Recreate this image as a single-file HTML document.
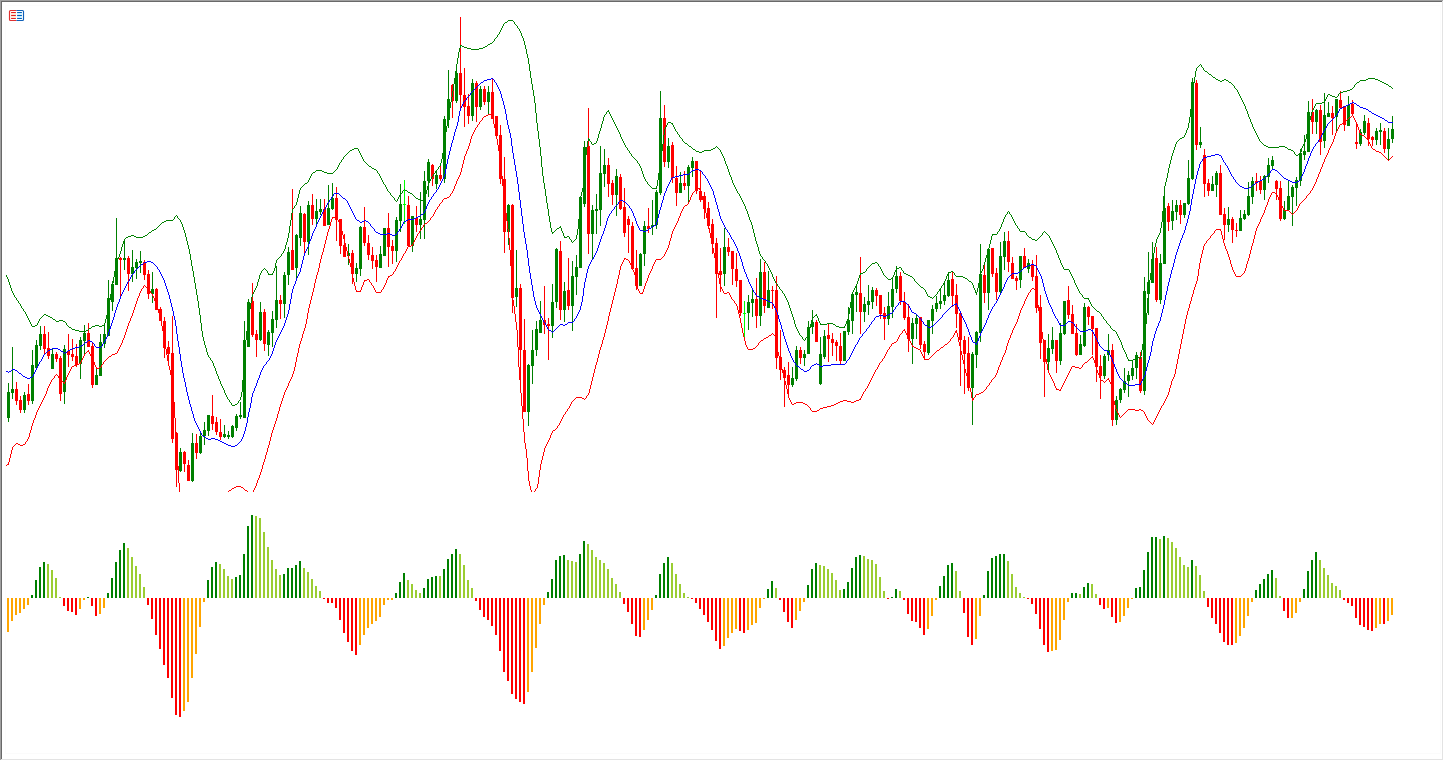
<!DOCTYPE html>
<html><head><meta charset="utf-8"><title>Chart</title>
<style>html,body{margin:0;padding:0;background:#fff;font-family:"Liberation Sans",sans-serif}svg{display:block}</style></head>
<body>
<svg width="1444" height="761" viewBox="0 0 1444 761" shape-rendering="crispEdges">
<rect width="1444" height="761" fill="#fff"/>
<defs><clipPath id="cm"><rect x="5" y="2" width="1390" height="490"/></clipPath><clipPath id="ch"><rect x="5" y="494" width="1390" height="264"/></clipPath></defs>
<g clip-path="url(#cm)">
<path fill="#008000" d="M8 383h1v39h-1zM7 392h3v26h-3zM12 347h1v52h-1zM11 389h3v4h-3zM24 392h1v21h-1zM23 395h3v15h-3zM32 350h1v54h-1zM31 365h3v36h-3zM36 340h1v28h-1zM35 345h3v23h-3zM40 326h1v24h-1zM39 334h3v12h-3zM52 348h1v21h-1zM51 354h3v15h-3zM64 345h1v59h-1zM63 349h3v43h-3zM80 337h1v42h-1zM79 340h3v24h-3zM84 325h1v29h-1zM83 333h3v8h-3zM96 369h1v16h-1zM95 375h3v10h-3zM100 334h1v42h-1zM99 342h3v34h-3zM104 325h1v23h-1zM103 334h3v10h-3zM108 280h1v56h-1zM107 298h3v38h-3zM112 281h1v30h-1zM111 284h3v18h-3zM116 218h1v67h-1zM115 258h3v27h-3zM124 239h1v31h-1zM123 258h3v2h-3zM132 250h1v32h-1zM131 267h3v7h-3zM136 259h1v20h-1zM135 262h3v6h-3zM140 251h1v22h-1zM139 261h3v2h-3zM152 272h1v31h-1zM151 289h3v5h-3zM180 448h1v24h-1zM179 452h3v19h-3zM192 433h1v49h-1zM191 443h3v38h-3zM200 433h1v21h-1zM199 436h3v17h-3zM204 422h1v23h-1zM203 430h3v6h-3zM208 415h1v21h-1zM207 415h3v16h-3zM224 425h1v13h-1zM223 434h3v3h-3zM228 431h1v8h-1zM227 435h3v2h-3zM232 425h1v13h-1zM231 426h3v11h-3zM236 414h1v17h-1zM235 416h3v12h-3zM240 402h1v17h-1zM239 415h3v2h-3zM244 321h1v97h-1zM243 340h3v78h-3zM248 299h1v48h-1zM247 302h3v45h-3zM260 302h1v39h-1zM259 312h3v28h-3zM268 330h1v26h-1zM267 332h3v13h-3zM272 311h1v36h-1zM271 319h3v14h-3zM276 266h1v62h-1zM275 300h3v20h-3zM284 272h1v46h-1zM283 275h3v29h-3zM288 247h1v38h-1zM287 252h3v23h-3zM296 234h1v45h-1zM295 235h3v33h-3zM300 206h1v40h-1zM299 213h3v25h-3zM308 201h1v54h-1zM307 205h3v37h-3zM316 199h1v28h-1zM315 211h3v8h-3zM320 199h1v16h-1zM319 209h3v3h-3zM328 185h1v40h-1zM327 208h3v17h-3zM332 183h1v27h-1zM331 198h3v11h-3zM348 244h1v21h-1zM347 253h3v3h-3zM356 263h1v19h-1zM355 268h3v6h-3zM360 226h1v50h-1zM359 227h3v42h-3zM380 246h1v22h-1zM379 254h3v14h-3zM384 228h1v28h-1zM383 228h3v28h-3zM396 217h1v45h-1zM395 220h3v31h-3zM400 184h1v48h-1zM399 204h3v17h-3zM412 216h1v36h-1zM411 216h3v30h-3zM420 192h1v47h-1zM419 219h3v6h-3zM424 171h1v68h-1zM423 181h3v39h-3zM428 159h1v38h-1zM427 162h3v19h-3zM436 171h1v18h-1zM435 175h3v9h-3zM444 116h1v67h-1zM443 119h3v60h-3zM448 70h1v58h-1zM447 99h3v21h-3zM456 66h1v37h-1zM455 73h3v28h-3zM472 79h1v42h-1zM471 83h3v33h-3zM480 86h1v24h-1zM479 89h3v18h-3zM488 86h1v28h-1zM487 92h3v10h-3zM508 204h1v41h-1zM507 205h3v27h-3zM516 250h1v57h-1zM515 288h3v9h-3zM528 364h1v62h-1zM527 365h3v47h-3zM532 330h1v54h-1zM531 350h3v16h-3zM536 321h1v35h-1zM535 329h3v21h-3zM540 301h1v32h-1zM539 320h3v13h-3zM552 284h1v54h-1zM551 302h3v24h-3zM556 248h1v60h-1zM555 249h3v53h-3zM564 282h1v40h-1zM563 291h3v19h-3zM572 261h1v70h-1zM571 276h3v30h-3zM576 255h1v40h-1zM575 267h3v10h-3zM580 197h1v71h-1zM579 197h3v71h-3zM584 141h1v66h-1zM583 147h3v57h-3zM592 205h1v54h-1zM591 210h3v24h-3zM596 194h1v40h-1zM595 209h3v2h-3zM600 146h1v80h-1zM599 173h3v37h-3zM604 149h1v38h-1zM603 165h3v9h-3zM616 169h1v47h-1zM615 176h3v19h-3zM640 253h1v33h-1zM639 254h3v32h-3zM644 221h1v45h-1zM643 226h3v28h-3zM652 200h1v35h-1zM651 225h3v2h-3zM656 190h1v39h-1zM655 192h3v33h-3zM660 91h1v104h-1zM659 118h3v75h-3zM668 138h1v30h-1zM667 146h3v16h-3zM680 172h1v21h-1zM679 183h3v10h-3zM688 165h1v39h-1zM687 167h3v19h-3zM692 157h1v20h-1zM691 161h3v7h-3zM724 228h1v58h-1zM723 247h3v27h-3zM748 295h1v35h-1zM747 302h3v11h-3zM752 290h1v27h-1zM751 299h3v4h-3zM760 259h1v67h-1zM759 272h3v44h-3zM768 271h1v37h-1zM767 290h3v18h-3zM792 367h1v20h-1zM791 378h3v7h-3zM796 346h1v35h-1zM795 350h3v29h-3zM804 350h1v16h-1zM803 354h3v4h-3zM808 321h1v33h-1zM807 327h3v27h-3zM812 310h1v24h-1zM811 322h3v5h-3zM820 337h1v48h-1zM819 354h3v30h-3zM824 330h1v29h-1zM823 336h3v21h-3zM844 331h1v30h-1zM843 331h3v30h-3zM848 307h1v28h-1zM847 320h3v12h-3zM852 292h1v42h-1zM851 294h3v27h-3zM856 286h1v26h-1zM855 292h3v3h-3zM864 297h1v25h-1zM863 304h3v8h-3zM868 285h1v30h-1zM867 301h3v4h-3zM872 287h1v22h-1zM871 290h3v12h-3zM888 292h1v33h-1zM887 306h3v13h-3zM892 277h1v41h-1zM891 289h3v18h-3zM896 266h1v27h-1zM895 276h3v13h-3zM912 318h1v46h-1zM911 323h3v16h-3zM916 315h1v24h-1zM915 318h3v6h-3zM928 320h1v35h-1zM927 320h3v33h-3zM932 305h1v29h-1zM931 309h3v12h-3zM936 296h1v16h-1zM935 303h3v6h-3zM940 289h1v20h-1zM939 301h3v3h-3zM944 283h1v22h-1zM943 295h3v6h-3zM948 272h1v25h-1zM947 280h3v16h-3zM972 352h1v73h-1zM971 354h3v34h-3zM976 331h1v37h-1zM975 332h3v23h-3zM980 244h1v98h-1zM979 274h3v59h-3zM988 248h1v62h-1zM987 249h3v44h-3zM1000 242h1v52h-1zM999 256h3v36h-3zM1004 232h1v38h-1zM1003 241h3v16h-3zM1020 256h1v32h-1zM1019 256h3v24h-3zM1028 259h1v14h-1zM1027 263h3v6h-3zM1048 334h1v36h-1zM1047 348h3v14h-3zM1052 327h1v27h-1zM1051 340h3v9h-3zM1060 323h1v42h-1zM1059 333h3v28h-3zM1064 301h1v34h-1zM1063 301h3v33h-3zM1080 335h1v20h-1zM1079 344h3v11h-3zM1084 303h1v44h-1zM1083 307h3v39h-3zM1104 354h1v25h-1zM1103 356h3v20h-3zM1108 334h1v27h-1zM1107 350h3v5h-3zM1116 396h1v29h-1zM1115 400h3v20h-3zM1120 388h1v15h-1zM1119 389h3v11h-3zM1124 368h1v25h-1zM1123 381h3v9h-3zM1128 371h1v26h-1zM1127 375h3v6h-3zM1132 360h1v20h-1zM1131 368h3v8h-3zM1136 352h1v27h-1zM1135 355h3v13h-3zM1144 277h1v118h-1zM1143 291h3v100h-3zM1148 252h1v63h-1zM1147 282h3v12h-3zM1152 242h1v41h-1zM1151 259h3v24h-3zM1160 254h1v50h-1zM1159 263h3v37h-3zM1164 187h1v77h-1zM1163 208h3v56h-3zM1172 200h1v30h-1zM1171 211h3v10h-3zM1176 200h1v20h-1zM1175 205h3v7h-3zM1184 203h1v15h-1zM1183 203h3v12h-3zM1188 160h1v45h-1zM1187 178h3v26h-3zM1192 78h1v102h-1zM1191 82h3v97h-3zM1200 127h1v21h-1zM1199 142h3v3h-3zM1212 176h1v15h-1zM1211 184h3v7h-3zM1216 171h1v26h-1zM1215 173h3v12h-3zM1228 207h1v25h-1zM1227 219h3v6h-3zM1240 210h1v21h-1zM1239 218h3v13h-3zM1244 210h1v10h-1zM1243 214h3v5h-3zM1248 182h1v34h-1zM1247 196h3v19h-3zM1252 177h1v27h-1zM1251 181h3v16h-3zM1264 175h1v25h-1zM1263 176h3v14h-3zM1268 158h1v25h-1zM1267 165h3v12h-3zM1272 156h1v13h-1zM1271 160h3v6h-3zM1284 201h1v19h-1zM1283 210h3v9h-3zM1288 180h1v30h-1zM1287 196h3v14h-3zM1292 185h1v41h-1zM1291 187h3v10h-3zM1296 177h1v29h-1zM1295 180h3v8h-3zM1300 149h1v37h-1zM1299 153h3v28h-3zM1304 135h1v25h-1zM1303 151h3v4h-3zM1308 101h1v51h-1zM1307 112h3v40h-3zM1316 109h1v25h-1zM1315 110h3v12h-3zM1324 93h1v55h-1zM1323 115h3v26h-3zM1328 102h1v15h-1zM1327 113h3v4h-3zM1336 99h1v32h-1zM1335 99h3v18h-3zM1348 96h1v30h-1zM1347 105h3v21h-3zM1360 129h1v17h-1zM1359 132h3v12h-3zM1364 115h1v20h-1zM1363 121h3v12h-3zM1376 128h1v17h-1zM1375 131h3v9h-3zM1380 123h1v22h-1zM1379 130h3v2h-3zM1388 128h1v32h-1zM1387 139h3v10h-3zM1392 116h1v27h-1zM1391 129h3v10h-3z"/>
<path fill="#ff0000" d="M4 402h1v16h-1zM3 402h3v16h-3zM16 382h1v23h-1zM15 389h3v12h-3zM20 396h1v17h-1zM19 400h3v10h-3zM28 384h1v21h-1zM27 394h3v7h-3zM44 326h1v28h-1zM43 334h3v15h-3zM48 332h1v27h-1zM47 348h3v8h-3zM56 352h1v10h-1zM55 354h3v5h-3zM60 356h1v45h-1zM59 358h3v36h-3zM68 334h1v33h-1zM67 351h3v4h-3zM72 339h1v22h-1zM71 354h3v3h-3zM76 344h1v23h-1zM75 356h3v9h-3zM88 323h1v24h-1zM87 333h3v14h-3zM92 343h1v45h-1zM91 346h3v39h-3zM120 257h1v39h-1zM119 258h3v2h-3zM128 256h1v35h-1zM127 258h3v16h-3zM144 260h1v20h-1zM143 262h3v13h-3zM148 270h1v29h-1zM147 274h3v20h-3zM156 288h1v22h-1zM155 289h3v21h-3zM160 307h1v14h-1zM159 309h3v12h-3zM164 317h1v41h-1zM163 321h3v27h-3zM168 341h1v20h-1zM167 347h3v7h-3zM172 316h1v127h-1zM171 353h3v86h-3zM176 432h1v55h-1zM175 433h3v37h-3zM184 451h1v21h-1zM183 452h3v12h-3zM188 460h1v21h-1zM187 465h3v16h-3zM196 434h1v25h-1zM195 443h3v10h-3zM212 395h1v35h-1zM211 416h3v8h-3zM216 417h1v18h-1zM215 422h3v10h-3zM220 419h1v21h-1zM219 432h3v5h-3zM252 283h1v54h-1zM251 301h3v34h-3zM256 330h1v27h-1zM255 334h3v6h-3zM264 309h1v42h-1zM263 312h3v32h-3zM280 295h1v24h-1zM279 300h3v4h-3zM292 189h1v81h-1zM291 250h3v20h-3zM304 213h1v41h-1zM303 214h3v28h-3zM312 194h1v31h-1zM311 205h3v14h-3zM324 199h1v27h-1zM323 209h3v17h-3zM336 187h1v54h-1zM335 198h3v22h-3zM340 219h1v35h-1zM339 219h3v27h-3zM344 234h1v23h-1zM343 245h3v12h-3zM352 250h1v34h-1zM351 253h3v21h-3zM364 207h1v39h-1zM363 227h3v16h-3zM368 235h1v25h-1zM367 243h3v12h-3zM372 247h1v22h-1zM371 255h3v6h-3zM376 255h1v27h-1zM375 260h3v7h-3zM388 213h1v54h-1zM387 228h3v19h-3zM392 240h1v24h-1zM391 246h3v5h-3zM408 196h1v50h-1zM407 205h3v41h-3zM416 206h1v26h-1zM415 218h3v7h-3zM432 164h1v22h-1zM431 165h3v14h-3zM440 165h1v16h-1zM439 175h3v4h-3zM452 84h1v34h-1zM451 85h3v16h-3zM460 17h1v91h-1zM459 73h3v22h-3zM464 68h1v59h-1zM463 95h3v12h-3zM468 94h1v30h-1zM467 106h3v10h-3zM476 81h1v41h-1zM475 83h3v24h-3zM484 86h1v19h-1zM483 89h3v13h-3zM492 79h1v40h-1zM491 92h3v27h-3zM496 116h1v23h-1zM495 116h3v20h-3zM500 125h1v59h-1zM499 135h3v44h-3zM504 157h1v96h-1zM503 179h3v53h-3zM512 204h1v109h-1zM511 205h3v93h-3zM520 284h1v102h-1zM519 288h3v62h-3zM524 319h1v93h-1zM523 350h3v62h-3zM544 286h1v48h-1zM543 320h3v5h-3zM548 318h1v42h-1zM547 324h3v2h-3zM560 241h1v79h-1zM559 251h3v59h-3zM568 258h1v52h-1zM567 290h3v16h-3zM588 108h1v146h-1zM587 146h3v88h-3zM608 158h1v39h-1zM607 165h3v19h-3zM612 180h1v25h-1zM611 183h3v12h-3zM620 174h1v36h-1zM619 177h3v32h-3zM624 188h1v49h-1zM623 207h3v26h-3zM628 216h1v37h-1zM627 219h3v6h-3zM632 222h1v47h-1zM631 226h3v43h-3zM636 250h1v40h-1zM635 268h3v18h-3zM648 208h1v25h-1zM647 226h3v3h-3zM664 105h1v62h-1zM663 118h3v44h-3zM672 142h1v41h-1zM671 145h3v33h-3zM676 166h1v40h-1zM675 178h3v15h-3zM684 171h1v19h-1zM683 183h3v3h-3zM696 161h1v33h-1zM695 161h3v30h-3zM700 171h1v31h-1zM699 191h3v9h-3zM704 192h1v27h-1zM703 196h3v13h-3zM708 202h1v27h-1zM707 208h3v18h-3zM712 219h1v35h-1zM711 224h3v20h-3zM716 238h1v80h-1zM715 243h3v31h-3zM720 248h1v44h-1zM719 271h3v4h-3zM728 238h1v18h-1zM727 247h3v5h-3zM732 251h1v34h-1zM731 251h3v18h-3zM736 253h1v34h-1zM735 269h3v12h-3zM740 280h1v36h-1zM739 280h3v33h-3zM756 278h1v50h-1zM755 299h3v17h-3zM764 262h1v51h-1zM763 272h3v34h-3zM772 286h1v23h-1zM771 290h3v1h-3zM776 276h1v93h-1zM775 290h3v68h-3zM780 330h1v50h-1zM779 357h3v13h-3zM784 367h1v40h-1zM783 370h3v8h-3zM788 362h1v32h-1zM787 375h3v10h-3zM800 347h1v17h-1zM799 350h3v8h-3zM816 320h1v22h-1zM815 322h3v20h-3zM828 324h1v38h-1zM827 335h3v4h-3zM832 333h1v23h-1zM831 339h3v4h-3zM836 340h1v21h-1zM835 342h3v4h-3zM840 333h1v31h-1zM839 346h3v15h-3zM860 257h1v77h-1zM859 293h3v19h-3zM876 288h1v18h-1zM875 290h3v6h-3zM880 295h1v24h-1zM879 295h3v19h-3zM884 307h1v33h-1zM883 313h3v6h-3zM900 272h1v33h-1zM899 276h3v25h-3zM904 292h1v28h-1zM903 302h3v16h-3zM908 304h1v48h-1zM907 317h3v22h-3zM920 317h1v32h-1zM919 317h3v28h-3zM924 341h1v18h-1zM923 344h3v8h-3zM952 272h1v35h-1zM951 279h3v17h-3zM956 284h1v44h-1zM955 295h3v19h-3zM960 313h1v73h-1zM959 313h3v27h-3zM964 336h1v58h-1zM963 340h3v14h-3zM968 337h1v54h-1zM967 353h3v35h-3zM984 265h1v38h-1zM983 275h3v18h-3zM992 248h1v29h-1zM991 248h3v26h-3zM996 268h1v32h-1zM995 273h3v19h-3zM1008 231h1v41h-1zM1007 241h3v21h-3zM1012 257h1v22h-1zM1011 263h3v16h-3zM1016 276h1v14h-1zM1015 278h3v3h-3zM1024 248h1v20h-1zM1023 256h3v12h-3zM1032 260h1v21h-1zM1031 265h3v12h-3zM1036 255h1v58h-1zM1035 276h3v32h-3zM1040 295h1v64h-1zM1039 307h3v36h-3zM1044 340h1v57h-1zM1043 340h3v22h-3zM1056 340h1v33h-1zM1055 340h3v21h-3zM1068 286h1v33h-1zM1067 300h3v15h-3zM1072 305h1v29h-1zM1071 314h3v20h-3zM1076 324h1v32h-1zM1075 333h3v22h-3zM1088 306h1v19h-1zM1087 307h3v10h-3zM1092 316h1v39h-1zM1091 316h3v13h-3zM1096 328h1v54h-1zM1095 328h3v39h-3zM1100 355h1v44h-1zM1099 366h3v10h-3zM1112 344h1v82h-1zM1111 350h3v70h-3zM1140 352h1v41h-1zM1139 357h3v34h-3zM1156 247h1v55h-1zM1155 258h3v42h-3zM1168 203h1v28h-1zM1167 206h3v16h-3zM1180 200h1v24h-1zM1179 205h3v10h-3zM1196 80h1v70h-1zM1195 83h3v62h-3zM1204 149h1v48h-1zM1203 155h3v29h-3zM1208 179h1v17h-1zM1207 183h3v8h-3zM1220 165h1v50h-1zM1219 173h3v42h-3zM1224 208h1v32h-1zM1223 214h3v11h-3zM1232 217h1v26h-1zM1231 219h3v11h-3zM1236 223h1v14h-1zM1235 230h3v1h-3zM1256 173h1v18h-1zM1255 181h3v2h-3zM1260 176h1v18h-1zM1259 181h3v9h-3zM1276 180h1v20h-1zM1275 181h3v8h-3zM1280 181h1v40h-1zM1279 188h3v31h-3zM1312 99h1v35h-1zM1311 112h3v10h-3zM1320 105h1v50h-1zM1319 110h3v32h-3zM1332 106h1v29h-1zM1331 113h3v5h-3zM1340 91h1v17h-1zM1339 100h3v8h-3zM1344 106h1v25h-1zM1343 106h3v19h-3zM1352 100h1v16h-1zM1351 104h3v10h-3zM1356 122h1v27h-1zM1355 142h3v2h-3zM1368 118h1v28h-1zM1367 123h3v16h-3zM1372 136h1v10h-1zM1371 137h3v3h-3zM1384 128h1v25h-1zM1383 131h3v18h-3z"/>
<path fill="#00ff00" d="M404 180h1v44h-1zM403 204h3v1h-3zM744 301h1v38h-1zM743 313h3v1h-3z"/>
<path fill="#008000" d="M951 271h2v1h-2zM1180 138h2v1h-2zM50 317h2v1h-2zM59 320h4v1h-4zM1035 240h2v1h-2zM268 274h5v1h-5zM906 274h2v1h-2zM35 325h2v1h-2zM95 325h4v1h-4zM102 325h2v1h-2zM820 324h7v1h-7zM833 324h2v1h-2zM467 48h4v1h-4zM479 48h4v1h-4zM128 236h3v1h-3zM134 236h2v1h-2zM143 236h2v1h-2zM567 236h2v1h-2zM1330 95h2v1h-2zM992 234h5v1h-5zM154 229h2v1h-2zM863 272h2v1h-2zM948 272h3v1h-3zM975 292h2v1h-2zM557 228h2v1h-2zM313 172h2v1h-2zM324 172h3v1h-3zM827 323h6v1h-6zM896 268h3v1h-3zM354 148h4v1h-4zM713 148h2v1h-2zM405 190h2v1h-2zM860 273h3v1h-3zM904 273h2v1h-2zM420 200h5v1h-5zM594 143h2v1h-2zM685 143h2v1h-2zM350 150h2v1h-2zM704 150h7v1h-7zM1291 150h2v1h-2zM46 315h2v1h-2zM815 315h2v1h-2zM671 123h2v1h-2zM1220 81h2v1h-2zM1380 81h2v1h-2zM696 151h3v1h-3zM702 151h2v1h-2zM1386 84h2v1h-2zM508 20h5v1h-5zM1229 82h2v1h-2zM1357 82h2v1h-2zM1382 82h2v1h-2zM969 281h2v1h-2zM689 146h2v1h-2zM1266 146h2v1h-2zM1279 146h6v1h-6zM888 279h3v1h-3zM149 232h2v1h-2zM552 232h2v1h-2zM1084 298h5v1h-5zM32 326h3v1h-3zM92 326h3v1h-3zM99 326h3v1h-3zM836 326h3v1h-3zM72 329h3v1h-3zM1332 96h3v1h-3zM1216 79h2v1h-2zM1224 79h2v1h-2zM1366 79h2v1h-2zM1375 79h3v1h-3zM352 149h2v1h-2zM693 149h2v1h-2zM711 149h2v1h-2zM1288 149h3v1h-3zM369 166h2v1h-2zM652 188h5v1h-5zM152 230h2v1h-2zM921 287h2v1h-2zM1264 145h2v1h-2zM1340 92h3v1h-3zM930 297h2v1h-2zM875 262h2v1h-2zM131 235h3v1h-3zM145 235h2v1h-2zM1020 231h5v1h-5zM559 227h2v1h-2zM48 316h2v1h-2zM928 296h2v1h-2zM1328 94h2v1h-2zM588 139h2v1h-2zM1097 311h2v1h-2zM126 237h2v1h-2zM136 237h7v1h-7zM564 237h3v1h-3zM1029 237h2v1h-2zM75 330h4v1h-4zM86 330h2v1h-2zM1113 330h2v1h-2zM1296 155h2v1h-2zM908 275h2v1h-2zM53 319h2v1h-2zM1136 357h3v1h-3zM1316 103h6v1h-6zM592 144h2v1h-2zM374 169h2v1h-2zM1032 239h3v1h-3zM460 45h2v1h-2zM69 327h2v1h-2zM839 327h6v1h-6zM1128 360h5v1h-5zM316 170h6v1h-6zM166 220h7v1h-7zM305 183h2v1h-2zM1218 80h2v1h-2zM1222 80h2v1h-2zM1226 80h2v1h-2zM1360 80h6v1h-6zM1378 80h2v1h-2zM89 328h2v1h-2zM1213 77h2v1h-2zM899 267h2v1h-2zM910 276h2v1h-2zM956 276h7v1h-7zM668 122h3v1h-3zM891 278h2v1h-2zM965 278h2v1h-2zM408 192h2v1h-2zM56 321h3v1h-3zM63 321h2v1h-2zM1347 90h3v1h-3zM963 277h2v1h-2zM872 263h3v1h-3zM164 221h2v1h-2zM1209 74h2v1h-2zM505 22h2v1h-2zM1064 269h5v1h-5zM699 152h3v1h-3zM44 314h2v1h-2zM1268 147h11v1h-11zM1285 147h2v1h-2zM488 44h2v1h-2zM1389 86h2v1h-2zM464 47h3v1h-3zM483 47h2v1h-2zM1205 71h2v1h-2zM372 168h2v1h-2zM1133 359h2v1h-2zM588 140h2v1h-2zM607 111h2v1h-2zM1139 358h2v1h-2zM471 49h8v1h-8zM410 193h2v1h-2zM416 198h2v1h-2zM162 222h2v1h-2zM1182 137h2v1h-2zM1368 78h7v1h-7zM418 199h2v1h-2zM322 171h2v1h-2zM79 331h7v1h-7zM1343 91h4v1h-4zM1298 154h2v1h-2zM1350 89h2v1h-2zM1335 97h2v1h-2zM1384 83h2v1h-2zM232 405h3v1h-3zM462 46h2v1h-2zM485 46h2v1h-2zM327 173h6v1h-6zM235 404h2v1h-2zM1322 102h2v1h-2zM490 43h2v1h-2zM648 184h1v1h-1zM609 112h1v2h-1zM882 271h1v2h-1zM854 288h1v2h-1zM243 362h1v18h-1zM681 138h1v1h-1zM196 289h1v6h-1zM1146 313h1v11h-1zM574 240h1v1h-1zM262 270h1v1h-1zM845 324h1v2h-1zM795 324h1v3h-1zM975 290h1v2h-1zM533 90h1v6h-1zM551 228h1v4h-1zM579 205h1v14h-1zM161 223h1v1h-1zM227 397h1v2h-1zM584 165h1v13h-1zM953 272h1v1h-1zM583 178h1v10h-1zM1122 345h1v3h-1zM289 226h1v7h-1zM1160 228h1v5h-1zM1159 233h1v2h-1zM527 54h1v4h-1zM545 189h1v7h-1zM1026 233h1v2h-1zM771 272h1v2h-1zM245 340h1v8h-1zM21 306h1v2h-1zM249 309h1v6h-1zM1190 109h1v8h-1zM578 219h1v10h-1zM444 138h1v7h-1zM206 348h1v4h-1zM199 308h1v7h-1zM448 113h1v6h-1zM108 306h1v5h-1zM819 321h1v2h-1zM25 312h1v2h-1zM121 247h1v4h-1zM1228 81h1v1h-1zM849 308h1v6h-1zM453 84h1v7h-1zM519 29h1v2h-1zM1311 112h1v4h-1zM1188 123h1v5h-1zM113 277h1v6h-1zM1302 146h1v2h-1zM979 277h1v6h-1zM536 113h1v10h-1zM193 271h1v6h-1zM400 194h1v1h-1zM244 348h1v14h-1zM371 167h1v1h-1zM753 229h1v4h-1zM532 84h1v6h-1zM458 52h1v6h-1zM811 320h1v4h-1zM1327 95h1v2h-1zM756 241h1v3h-1zM1110 326h1v2h-1zM999 229h1v2h-1zM1154 247h1v6h-1zM382 180h1v2h-1zM548 209h1v7h-1zM385 185h1v2h-1zM285 245h1v4h-1zM238 401h1v2h-1zM587 141h1v6h-1zM1198 66h1v1h-1zM452 91h1v6h-1zM659 165h1v8h-1zM759 251h1v3h-1zM396 201h1v1h-1zM865 271h1v1h-1zM762 257h1v2h-1zM427 186h1v4h-1zM742 200h1v2h-1zM202 331h1v6h-1zM763 259h1v1h-1zM1145 324h1v8h-1zM555 230h1v1h-1zM1164 186h1v10h-1zM189 249h1v5h-1zM297 198h1v4h-1zM625 145h1v2h-1zM535 103h1v10h-1zM10 285h1v3h-1zM1306 134h1v5h-1zM933 297h1v1h-1zM658 173h1v7h-1zM276 260h1v3h-1zM1256 133h1v2h-1zM629 151h1v2h-1zM1158 235h1v2h-1zM1144 332h1v6h-1zM895 270h1v2h-1zM242 380h1v12h-1zM724 158h1v3h-1zM443 145h1v8h-1zM752 225h1v4h-1zM529 64h1v7h-1zM547 203h1v6h-1zM600 128h1v3h-1zM257 282h1v4h-1zM1163 196h1v15h-1zM248 315h1v8h-1zM1167 173h1v5h-1zM362 157h1v2h-1zM784 294h1v2h-1zM1193 83h1v8h-1zM643 174h1v3h-1zM848 314h1v5h-1zM646 181h1v1h-1zM182 224h1v3h-1zM880 267h1v2h-1zM148 233h1v1h-1zM120 251h1v3h-1zM785 296h1v2h-1zM610 114h1v2h-1zM1080 293h1v1h-1zM883 273h1v2h-1zM1238 92h1v2h-1zM541 156h1v11h-1zM647 182h1v2h-1zM1310 116h1v4h-1zM1081 294h1v1h-1zM442 153h1v6h-1zM810 324h1v4h-1zM682 139h1v2h-1zM185 233h1v4h-1zM734 185h1v2h-1zM1162 211h1v11h-1zM1149 280h1v7h-1zM538 131h1v8h-1zM195 283h1v6h-1zM791 311h1v3h-1zM1201 65h1v2h-1zM1153 253h1v6h-1zM186 237h1v4h-1zM525 45h1v4h-1zM343 157h1v2h-1zM591 142h1v2h-1zM226 395h1v2h-1zM426 190h1v4h-1zM117 259h1v2h-1zM229 400h1v2h-1zM955 275h1v1h-1zM974 288h1v2h-1zM1140 356h1v2h-1zM550 222h1v6h-1zM279 257h1v1h-1zM528 58h1v6h-1zM66 323h1v2h-1zM1148 287h1v11h-1zM1121 342h1v3h-1zM663 135h1v9h-1zM1252 124h1v3h-1zM124 239h1v2h-1zM115 265h1v6h-1zM296 202h1v3h-1zM198 301h1v7h-1zM191 260h1v6h-1zM91 327h1v1h-1zM339 163h1v2h-1zM1017 226h1v2h-1zM540 147h1v9h-1zM1028 236h1v1h-1zM288 233h1v5h-1zM275 263h1v5h-1zM287 238h1v4h-1zM192 266h1v5h-1zM495 38h1v1h-1zM1143 338h1v6h-1zM174 217h1v2h-1zM657 180h1v6h-1zM292 209h1v4h-1zM256 286h1v2h-1zM598 134h1v4h-1zM531 78h1v6h-1zM247 323h1v8h-1zM335 170h1v1h-1zM447 119h1v7h-1zM1003 219h1v3h-1zM215 368h1v3h-1zM606 112h1v2h-1zM383 182h1v2h-1zM1207 72h1v1h-1zM1192 91h1v9h-1zM384 184h1v1h-1zM201 323h1v8h-1zM543 176h1v7h-1zM977 288h1v4h-1zM740 196h1v2h-1zM564 236h1v1h-1zM1161 222h1v6h-1zM246 331h1v9h-1zM111 288h1v6h-1zM222 386h1v2h-1zM250 303h1v6h-1zM445 132h1v6h-1zM11 288h1v3h-1zM456 64h1v7h-1zM1191 100h1v9h-1zM627 148h1v2h-1zM1009 212h1v2h-1zM747 211h1v3h-1zM765 261h1v2h-1zM450 102h1v6h-1zM769 268h1v2h-1zM1010 214h1v1h-1zM947 274h1v2h-1zM1013 219h1v2h-1zM723 156h1v2h-1zM455 71h1v7h-1zM338 165h1v2h-1zM123 241h1v3h-1zM586 147h1v8h-1zM981 271h1v2h-1zM1147 298h1v15h-1zM433 174h1v2h-1zM662 144h1v7h-1zM546 196h1v7h-1zM729 172h1v3h-1zM581 192h1v4h-1zM1082 295h1v2h-1zM255 288h1v2h-1zM585 155h1v10h-1zM376 170h1v1h-1zM885 276h1v1h-1zM181 222h1v2h-1zM597 138h1v3h-1zM173 219h1v1h-1zM1142 344h1v6h-1zM303 185h1v1h-1zM537 123h1v8h-1zM732 180h1v3h-1zM194 277h1v6h-1zM429 181h1v2h-1zM684 142h1v1h-1zM1203 68h1v2h-1zM733 183h1v2h-1zM665 127h1v2h-1zM576 235h1v4h-1zM790 308h1v3h-1zM1105 320h1v1h-1zM446 126h1v6h-1zM549 216h1v6h-1zM299 190h1v4h-1zM851 296h1v6h-1zM617 128h1v2h-1zM1308 124h1v4h-1zM808 332h1v3h-1zM620 134h1v3h-1zM203 337h1v4h-1zM539 139h1v8h-1zM1250 119h1v3h-1zM1054 246h1v2h-1zM259 275h1v4h-1zM204 341h1v4h-1zM110 294h1v6h-1zM1251 122h1v2h-1zM40 318h1v1h-1zM449 108h1v5h-1zM1126 354h1v3h-1zM1152 259h1v7h-1zM1061 263h1v2h-1zM750 220h1v2h-1zM454 78h1v6h-1zM980 273h1v4h-1zM530 71h1v7h-1zM641 168h1v3h-1zM1258 137h1v2h-1zM580 196h1v9h-1zM214 366h1v2h-1zM542 167h1v9h-1zM265 269h1v1h-1zM1090 302h1v2h-1zM660 157h1v8h-1zM220 381h1v3h-1zM428 183h1v3h-1zM266 270h1v1h-1zM221 384h1v2h-1zM187 241h1v4h-1zM501 28h1v2h-1zM160 224h1v1h-1zM1307 128h1v6h-1zM1011 215h1v2h-1zM984 262h1v3h-1zM298 194h1v4h-1zM767 264h1v2h-1zM796 327h1v2h-1zM807 335h1v2h-1zM109 300h1v6h-1zM721 152h1v2h-1zM926 292h1v2h-1zM1195 71h1v6h-1zM258 279h1v3h-1zM1151 266h1v7h-1zM774 279h1v2h-1zM404 189h1v1h-1zM858 278h1v3h-1zM728 169h1v3h-1zM200 315h1v8h-1zM651 187h1v1h-1zM112 283h1v5h-1zM869 266h1v1h-1zM284 249h1v2h-1zM1107 323h1v1h-1zM618 130h1v2h-1zM1052 242h1v2h-1zM344 156h1v1h-1zM554 231h1v1h-1zM1185 133h1v2h-1zM500 30h1v2h-1zM1007 212h1v2h-1zM1128 359h1v1h-1zM1059 258h1v2h-1zM1073 278h1v2h-1zM818 318h1v3h-1zM749 217h1v3h-1zM1259 139h1v2h-1zM88 329h1v1h-1zM1260 141h1v1h-1zM640 166h1v2h-1zM147 234h1v1h-1zM857 281h1v3h-1zM30 322h1v2h-1zM1150 273h1v7h-1zM1088 299h1v1h-1zM363 159h1v2h-1zM1091 304h1v2h-1zM31 324h1v2h-1zM978 283h1v5h-1zM65 322h1v1h-1zM219 379h1v2h-1zM611 116h1v2h-1zM664 129h1v6h-1zM1117 334h1v2h-1zM1293 151h1v1h-1zM1040 236h1v1h-1zM1294 152h1v2h-1zM438 167h1v2h-1zM924 289h1v1h-1zM1124 350h1v2h-1zM499 32h1v2h-1zM925 290h1v2h-1zM460 46h1v2h-1zM773 277h1v2h-1zM776 283h1v1h-1zM414 196h1v1h-1zM494 39h1v2h-1zM989 244h1v4h-1zM208 355h1v2h-1zM20 304h1v2h-1zM309 178h1v2h-1zM23 309h1v2h-1zM1002 222h1v2h-1zM674 127h1v2h-1zM521 33h1v3h-1zM755 237h1v4h-1zM847 319h1v2h-1zM263 269h1v1h-1zM757 244h1v3h-1zM986 255h1v3h-1zM524 41h1v4h-1zM1215 78h1v1h-1zM1109 325h1v1h-1zM1309 120h1v4h-1zM758 247h1v4h-1zM809 328h1v4h-1zM394 198h1v2h-1zM1171 156h1v4h-1zM572 242h1v1h-1zM315 171h1v1h-1zM5 273h1v2h-1zM602 121h1v3h-1zM744 204h1v2h-1zM197 295h1v6h-1zM424 198h1v2h-1zM920 286h1v1h-1zM12 291h1v2h-1zM624 143h1v2h-1zM804 340h1v1h-1zM850 302h1v6h-1zM628 150h1v1h-1zM459 48h1v4h-1zM1313 108h1v2h-1zM813 317h1v1h-1zM1262 143h1v1h-1zM274 268h1v3h-1zM286 242h1v3h-1zM361 155h1v2h-1zM943 283h1v2h-1zM184 230h1v3h-1zM364 161h1v1h-1zM1001 224h1v3h-1zM786 298h1v2h-1zM645 179h1v2h-1zM691 147h1v1h-1zM291 213h1v7h-1zM365 162h1v1h-1zM1115 331h1v1h-1zM1237 90h1v2h-1zM1094 308h1v1h-1zM1199 65h1v1h-1zM692 148h1v1h-1zM67 325h1v1h-1zM613 120h1v2h-1zM1211 75h1v1h-1zM939 289h1v2h-1zM1295 154h1v1h-1zM736 189h1v2h-1zM976 293h1v2h-1zM534 96h1v7h-1zM934 296h1v1h-1zM228 399h1v1h-1zM1123 348h1v2h-1zM1178 140h1v1h-1zM1339 93h1v1h-1zM672 124h1v1h-1zM207 352h1v3h-1zM210 358h1v2h-1zM1075 283h1v2h-1zM504 23h1v1h-1zM217 374h1v2h-1zM687 144h1v1h-1zM596 141h1v2h-1zM105 319h1v4h-1zM870 265h1v1h-1zM1111 328h1v1h-1zM688 145h1v1h-1zM1141 350h1v6h-1zM1354 85h1v2h-1zM386 187h1v2h-1zM290 220h1v6h-1zM7 277h1v2h-1zM224 390h1v3h-1zM190 254h1v6h-1zM626 147h1v1h-1zM496 37h1v1h-1zM630 153h1v1h-1zM1012 217h1v2h-1zM1338 94h1v2h-1zM731 177h1v3h-1zM1235 88h1v1h-1zM788 302h1v3h-1zM183 227h1v3h-1zM884 275h1v1h-1zM1239 94h1v2h-1zM457 58h1v6h-1zM683 141h1v1h-1zM1096 310h1v1h-1zM1212 76h1v1h-1zM1326 97h1v2h-1zM735 187h1v2h-1zM738 193h1v1h-1zM526 49h1v5h-1zM1246 109h1v2h-1zM1184 135h1v2h-1zM230 402h1v1h-1zM948 273h1v1h-1zM544 183h1v6h-1zM1041 235h1v1h-1zM622 139h1v2h-1zM205 345h1v3h-1zM1253 127h1v2h-1zM983 265h1v4h-1zM434 173h1v1h-1zM1168 168h1v5h-1zM1194 77h1v6h-1zM407 191h1v1h-1zM359 151h1v2h-1zM599 131h1v3h-1zM1077 287h1v2h-1zM667 123h1v2h-1zM577 229h1v6h-1zM1074 280h1v3h-1zM216 371h1v3h-1zM301 187h1v1h-1zM1044 231h1v1h-1zM252 294h1v3h-1zM264 268h1v1h-1zM388 191h1v1h-1zM1208 73h1v1h-1zM1039 237h1v1h-1zM223 388h1v2h-1zM116 261h1v4h-1zM312 173h1v1h-1zM766 263h1v1h-1zM798 331h1v2h-1zM982 269h1v2h-1zM1014 221h1v2h-1zM295 205h1v1h-1zM991 236h1v4h-1zM308 180h1v2h-1zM1305 139h1v3h-1zM107 311h1v4h-1zM649 185h1v1h-1zM1083 297h1v1h-1zM377 171h1v2h-1zM886 277h1v1h-1zM650 186h1v1h-1zM1356 83h1v1h-1zM251 297h1v6h-1zM399 195h1v2h-1zM887 278h1v1h-1zM300 188h1v2h-1zM998 231h1v1h-1zM1204 70h1v1h-1zM451 97h1v5h-1zM561 228h1v3h-1zM158 226h1v1h-1zM860 274h1v1h-1zM990 240h1v4h-1zM1157 237h1v2h-1zM894 272h1v3h-1zM751 222h1v3h-1zM177 216h1v2h-1zM1312 110h1v2h-1zM812 318h1v2h-1zM307 182h1v1h-1zM642 171h1v3h-1zM754 233h1v4h-1zM1046 233h1v1h-1zM938 291h1v1h-1zM575 239h1v1h-1zM240 397h1v3h-1zM441 159h1v4h-1zM398 197h1v2h-1zM793 317h1v3h-1zM390 193h1v2h-1zM985 258h1v4h-1zM997 232h1v2h-1zM1116 332h1v2h-1zM1392 88h1v1h-1zM768 266h1v2h-1zM1170 160h1v4h-1zM797 329h1v2h-1zM601 124h1v4h-1zM278 258h1v1h-1zM1177 141h1v1h-1zM927 294h1v2h-1zM634 158h1v1h-1zM412 194h1v1h-1zM114 271h1v6h-1zM775 281h1v2h-1zM413 195h1v1h-1zM1156 239h1v4h-1zM367 164h1v1h-1zM378 173h1v1h-1zM368 165h1v1h-1zM379 174h1v2h-1zM673 125h1v2h-1zM349 151h1v1h-1zM523 38h1v3h-1zM1202 67h1v1h-1zM695 150h1v1h-1zM397 199h1v2h-1zM439 166h1v1h-1zM239 400h1v1h-1zM937 292h1v2h-1zM1056 250h1v3h-1zM619 132h1v2h-1zM1388 85h1v1h-1zM746 209h1v2h-1zM341 160h1v2h-1zM1060 260h1v3h-1zM14 295h1v2h-1zM179 219h1v1h-1zM337 167h1v2h-1zM1189 117h1v6h-1zM988 248h1v3h-1zM1092 306h1v1h-1zM1173 150h1v3h-1zM268 273h1v1h-1zM302 186h1v1h-1zM844 326h1v1h-1zM792 314h1v3h-1zM604 115h1v2h-1zM1118 336h1v2h-1zM104 323h1v2h-1zM802 337h1v2h-1zM125 238h1v1h-1zM1125 352h1v2h-1zM777 284h1v2h-1zM39 319h1v2h-1zM582 188h1v4h-1zM1070 272h1v2h-1zM151 231h1v1h-1zM175 216h1v1h-1zM415 197h1v1h-1zM675 129h1v2h-1zM522 36h1v2h-1zM852 292h1v4h-1zM1099 312h1v1h-1zM1172 153h1v3h-1zM9 282h1v3h-1zM6 275h1v2h-1zM902 270h1v1h-1zM745 206h1v3h-1zM13 293h1v2h-1zM16 298h1v2h-1zM513 21h1v1h-1zM38 321h1v2h-1zM514 22h1v2h-1zM403 190h1v1h-1zM730 175h1v2h-1zM787 300h1v2h-1zM241 392h1v5h-1zM1355 84h1v1h-1zM1241 98h1v2h-1zM614 122h1v2h-1zM868 267h1v1h-1zM283 251h1v2h-1zM737 191h1v2h-1zM52 318h1v1h-1zM1196 68h1v3h-1zM1248 114h1v3h-1zM859 275h1v3h-1zM1069 270h1v2h-1zM1255 131h1v2h-1zM22 308h1v1h-1zM779 287h1v2h-1zM37 323h1v2h-1zM211 360h1v1h-1zM661 151h1v6h-1zM26 314h1v2h-1zM878 264h1v2h-1zM677 132h1v2h-1zM1166 178h1v4h-1zM560 226h1v1h-1zM1101 314h1v2h-1zM968 280h1v1h-1zM119 254h1v3h-1zM1186 130h1v3h-1zM218 376h1v3h-1zM1112 329h1v1h-1zM387 189h1v2h-1zM8 279h1v3h-1zM282 253h1v1h-1zM225 393h1v2h-1zM277 259h1v1h-1zM1027 235h1v1h-1zM725 161h1v3h-1zM631 154h1v2h-1zM1005 215h1v2h-1zM1261 142h1v1h-1zM1016 225h1v1h-1zM493 41h1v1h-1zM893 275h1v2h-1zM348 152h1v1h-1zM1165 182h1v4h-1zM1240 96h1v2h-1zM612 118h1v2h-1zM739 194h1v2h-1zM760 254h1v2h-1zM563 233h1v3h-1zM1287 148h1v1h-1zM1247 111h1v3h-1zM281 254h1v2h-1zM231 403h1v2h-1zM209 357h1v1h-1zM24 311h1v1h-1zM1063 267h1v2h-1zM781 290h1v1h-1zM213 363h1v3h-1zM877 263h1v1h-1zM122 244h1v3h-1zM1078 289h1v2h-1zM1103 317h1v2h-1zM853 290h1v2h-1zM1045 232h1v1h-1zM159 225h1v1h-1zM261 271h1v2h-1zM914 279h1v2h-1zM806 337h1v1h-1zM770 270h1v2h-1zM632 156h1v1h-1zM1015 223h1v2h-1zM1018 228h1v1h-1zM1263 144h1v1h-1zM430 179h1v2h-1zM366 163h1v1h-1zM1301 148h1v4h-1zM503 24h1v2h-1zM621 137h1v2h-1zM1135 358h1v1h-1zM1055 248h1v2h-1zM260 273h1v2h-1zM748 214h1v3h-1zM805 338h1v2h-1zM1062 265h1v2h-1zM820 323h1v1h-1zM358 149h1v2h-1zM178 218h1v1h-1zM942 285h1v1h-1zM1304 142h1v2h-1zM1076 285h1v2h-1zM1176 142h1v2h-1zM402 191h1v2h-1zM347 153h1v1h-1zM867 268h1v1h-1zM973 285h1v3h-1zM188 245h1v4h-1zM1187 128h1v2h-1zM502 26h1v2h-1zM794 320h1v4h-1zM391 195h1v1h-1zM1325 99h1v2h-1zM342 159h1v1h-1zM935 295h1v1h-1zM800 335h1v1h-1zM552 233h1v1h-1zM715 147h1v1h-1zM801 336h1v1h-1zM380 176h1v2h-1zM605 114h1v1h-1zM1043 232h1v1h-1zM55 320h1v1h-1zM866 269h1v2h-1zM717 147h1v1h-1zM1169 164h1v4h-1zM718 148h1v1h-1zM923 288h1v1h-1zM1038 238h1v1h-1zM901 268h1v2h-1zM497 35h1v2h-1zM311 174h1v2h-1zM176 215h1v1h-1zM946 276h1v3h-1zM1004 217h1v2h-1zM492 42h1v1h-1zM180 220h1v2h-1zM294 206h1v2h-1zM432 176h1v1h-1zM892 277h1v1h-1zM656 186h1v2h-1zM254 290h1v2h-1zM789 305h1v3h-1zM389 192h1v1h-1zM971 282h1v1h-1zM1243 102h1v2h-1zM1391 87h1v1h-1zM972 283h1v2h-1zM615 124h1v2h-1zM1049 236h1v2h-1zM570 239h1v1h-1zM1119 338h1v2h-1zM918 284h1v1h-1zM1315 104h1v2h-1zM435 171h1v2h-1zM1257 135h1v2h-1zM637 161h1v2h-1zM1231 83h1v1h-1zM778 286h1v1h-1zM293 208h1v1h-1zM1232 84h1v1h-1zM28 318h1v2h-1zM431 177h1v2h-1zM676 131h1v1h-1zM987 251h1v4h-1zM679 135h1v2h-1zM967 279h1v1h-1zM1197 67h1v1h-1zM603 117h1v4h-1zM42 316h1v1h-1zM719 149h1v1h-1zM720 150h1v2h-1zM932 298h1v1h-1zM903 271h1v2h-1zM1314 106h1v2h-1zM17 300h1v1h-1zM727 166h1v3h-1zM944 281h1v2h-1zM940 288h1v1h-1zM1047 234h1v1h-1zM1245 106h1v3h-1zM1048 235h1v1h-1zM1242 100h1v2h-1zM1051 240h1v2h-1zM1352 88h1v1h-1zM395 200h1v1h-1zM741 198h1v2h-1zM1249 117h1v2h-1zM1058 255h1v3h-1zM635 159h1v1h-1zM1072 276h1v2h-1zM639 164h1v2h-1zM780 289h1v1h-1zM1175 144h1v3h-1zM1233 85h1v1h-1zM212 361h1v2h-1zM856 284h1v2h-1zM1359 81h1v1h-1zM27 316h1v2h-1zM1079 291h1v2h-1zM1234 86h1v2h-1zM106 315h1v4h-1zM346 154h1v1h-1zM1324 101h1v1h-1zM556 229h1v1h-1zM1300 152h1v2h-1zM590 141h1v1h-1zM954 273h1v2h-1zM912 277h1v1h-1zM425 194h1v4h-1zM913 278h1v1h-1zM437 169h1v1h-1zM772 274h1v3h-1zM18 301h1v2h-1zM726 164h1v2h-1zM516 25h1v1h-1zM1174 147h1v3h-1zM517 26h1v2h-1zM520 31h1v2h-1zM1093 307h1v1h-1zM855 286h1v2h-1zM393 197h1v1h-1zM666 125h1v2h-1zM846 321h1v3h-1zM118 257h1v2h-1zM1042 233h1v2h-1zM743 202h1v2h-1zM440 163h1v3h-1zM340 162h1v1h-1zM1037 239h1v1h-1zM1057 253h1v2h-1zM623 141h1v2h-1zM1254 129h1v2h-1zM336 169h1v1h-1zM782 291h1v2h-1zM360 153h1v2h-1zM881 269h1v2h-1zM1155 243h1v4h-1zM1236 89h1v1h-1zM644 177h1v2h-1zM253 292h1v2h-1zM333 172h1v1h-1zM1100 313h1v1h-1zM588 138h1v1h-1zM1104 319h1v1h-1zM43 315h1v1h-1zM915 281h1v1h-1zM992 235h1v1h-1zM1025 232h1v1h-1zM156 228h1v1h-1zM799 333h1v2h-1zM518 28h1v1h-1zM1019 229h1v2h-1zM945 279h1v2h-1zM272 273h1v1h-1zM1095 309h1v1h-1zM381 178h1v2h-1zM941 286h1v2h-1zM936 294h1v1h-1zM562 231h1v2h-1zM573 241h1v1h-1zM716 146h1v1h-1zM783 293h1v1h-1zM879 266h1v1h-1zM507 21h1v1h-1zM1102 316h1v1h-1zM1200 64h1v1h-1zM1106 321h1v2h-1zM237 403h1v1h-1zM1120 340h1v2h-1zM569 237h1v2h-1zM916 282h1v1h-1zM498 34h1v1h-1zM917 283h1v1h-1zM1127 357h1v2h-1zM1179 139h1v1h-1zM817 316h1v2h-1zM345 155h1v1h-1zM267 271h1v2h-1zM764 260h1v1h-1zM1008 211h1v1h-1zM835 325h1v1h-1zM436 170h1v1h-1zM722 154h1v2h-1zM608 110h1v1h-1zM71 328h1v1h-1zM1108 324h1v1h-1zM1244 104h1v2h-1zM1053 244h1v2h-1zM616 126h1v2h-1zM1050 238h1v2h-1zM571 240h1v2h-1zM633 157h1v1h-1zM803 339h1v1h-1zM310 176h1v2h-1zM1071 274h1v2h-1zM816 314h1v1h-1zM1303 144h1v2h-1zM401 193h1v1h-1zM1089 300h1v2h-1zM29 320h1v2h-1zM273 271h1v2h-1zM1353 87h1v1h-1zM1000 227h1v2h-1zM896 269h1v1h-1zM814 316h1v1h-1zM1337 96h1v1h-1zM515 24h1v1h-1zM392 196h1v1h-1zM280 256h1v1h-1zM636 160h1v1h-1zM871 264h1v1h-1zM678 134h1v1h-1zM487 45h1v1h-1zM68 326h1v1h-1zM15 297h1v1h-1zM1006 214h1v1h-1zM19 303h1v1h-1zM334 171h1v1h-1zM304 184h1v1h-1zM919 285h1v1h-1zM761 256h1v1h-1zM157 227h1v1h-1zM41 317h1v1h-1zM1031 238h1v1h-1zM638 163h1v1h-1zM680 137h1v1h-1z"/>
<path fill="#ff0000" d="M1056 389h3v1h-3zM831 405h3v1h-3zM1272 192h3v1h-3zM903 330h2v1h-2zM812 411h5v1h-5zM447 197h2v1h-2zM1376 151h3v1h-3zM16 443h2v1h-2zM937 350h2v1h-2zM766 337h2v1h-2zM924 359h5v1h-5zM912 346h2v1h-2zM390 275h2v1h-2zM1032 288h2v1h-2zM914 347h2v1h-2zM941 347h2v1h-2zM112 354h3v1h-3zM1091 357h2v1h-2zM1034 289h2v1h-2zM411 245h2v1h-2zM115 353h2v1h-2zM1275 193h2v1h-2zM698 188h2v1h-2zM981 392h2v1h-2zM63 382h2v1h-2zM955 331h2v1h-2zM792 404h2v1h-2zM805 404h2v1h-2zM834 404h2v1h-2zM444 198h3v1h-3zM976 394h3v1h-3zM769 335h2v1h-2zM356 291h5v1h-5zM236 486h5v1h-5zM109 356h2v1h-2zM764 338h2v1h-2zM576 397h6v1h-6zM1379 152h2v1h-2zM685 205h2v1h-2zM979 393h2v1h-2zM232 488h2v1h-2zM72 366h2v1h-2zM1072 366h3v1h-3zM748 349h5v1h-5zM918 349h2v1h-2zM18 444h2v1h-2zM23 444h2v1h-2zM640 293h3v1h-3zM724 293h3v1h-3zM364 280h3v1h-3zM761 340h2v1h-2zM79 363h2v1h-2zM624 258h2v1h-2zM74 365h2v1h-2zM388 276h2v1h-2zM1236 276h5v1h-5zM626 259h2v1h-2zM656 259h5v1h-5zM843 400h4v1h-4zM856 400h3v1h-3zM7 464h2v1h-2zM408 246h3v1h-3zM945 344h2v1h-2zM1360 134h2v1h-2zM753 348h2v1h-2zM916 348h2v1h-2zM840 401h3v1h-3zM847 401h4v1h-4zM854 401h2v1h-2zM820 408h3v1h-3zM425 223h2v1h-2zM817 410h2v1h-2zM1135 410h4v1h-4zM1141 410h2v1h-2zM1216 229h5v1h-5zM376 292h5v1h-5zM727 292h2v1h-2zM827 406h4v1h-4zM892 343h2v1h-2zM1107 379h2v1h-2zM99 367h2v1h-2zM1075 367h4v1h-4zM332 217h3v1h-3zM87 351h2v1h-2zM1059 390h2v1h-2zM1085 362h2v1h-2zM1284 210h5v1h-5zM96 368h3v1h-3zM1079 368h2v1h-2zM1373 149h2v1h-2zM794 403h2v1h-2zM803 403h2v1h-2zM836 403h2v1h-2zM553 430h2v1h-2zM20 445h3v1h-3zM582 398h2v1h-2zM972 398h2v1h-2zM229 490h2v1h-2zM245 490h2v1h-2zM955 332h2v1h-2zM367 279h2v1h-2zM1342 123h2v1h-2zM1128 409h7v1h-7zM1139 409h2v1h-2zM76 364h3v1h-3zM823 407h4v1h-4zM859 399h2v1h-2zM972 399h2v1h-2zM796 402h7v1h-7zM838 402h2v1h-2zM851 402h3v1h-3zM1362 135h2v1h-2zM894 342h2v1h-2zM335 216h2v1h-2zM234 487h2v1h-2zM241 487h2v1h-2zM1101 380h2v1h-2zM488 114h4v1h-4zM486 115h2v1h-2zM5 465h2v1h-2zM484 116h2v1h-2zM1349 117h2v1h-2zM696 189h2v1h-2zM1340 124h2v1h-2zM494 124h1v4h-1zM1162 405h1v1h-1zM501 166h1v10h-1zM256 483h1v3h-1zM693 192h1v1h-1zM395 269h1v2h-1zM510 250h1v16h-1zM442 200h1v2h-1zM1221 231h1v4h-1zM729 293h1v2h-1zM177 450h1v16h-1zM702 196h1v4h-1zM171 375h1v7h-1zM364 281h1v1h-1zM25 442h1v2h-1zM323 248h1v4h-1zM1179 349h1v5h-1zM273 427h1v3h-1zM898 337h1v2h-1zM704 204h1v4h-1zM520 380h1v13h-1zM467 149h1v2h-1zM1043 339h1v8h-1zM593 373h1v4h-1zM315 279h1v4h-1zM147 288h1v1h-1zM1039 311h1v6h-1zM650 271h1v2h-1zM776 341h1v7h-1zM1004 353h1v2h-1zM1158 412h1v2h-1zM1247 261h1v3h-1zM1170 385h1v3h-1zM962 355h1v5h-1zM1371 146h1v2h-1zM343 235h1v4h-1zM148 289h1v1h-1zM345 243h1v4h-1zM518 347h1v20h-1zM987 386h1v1h-1zM523 419h1v13h-1zM297 353h1v4h-1zM779 356h1v4h-1zM288 383h1v3h-1zM119 347h1v2h-1zM503 186h1v10h-1zM454 186h1v3h-1zM690 197h1v3h-1zM386 280h1v3h-1zM890 346h1v1h-1zM158 309h1v4h-1zM327 232h1v4h-1zM863 392h1v2h-1zM1064 381h1v2h-1zM742 328h1v5h-1zM500 157h1v9h-1zM1325 157h1v2h-1zM597 358h1v4h-1zM174 402h1v16h-1zM509 238h1v12h-1zM710 233h1v5h-1zM461 168h1v4h-1zM1278 197h1v3h-1zM284 392h1v3h-1zM1020 310h1v3h-1zM268 445h1v3h-1zM161 320h1v6h-1zM450 194h1v2h-1zM382 289h1v1h-1zM541 460h1v4h-1zM588 393h1v2h-1zM1049 373h1v2h-1zM1042 332h1v7h-1zM310 300h1v4h-1zM720 284h1v3h-1zM179 483h1v9h-1zM637 286h1v3h-1zM1060 389h1v1h-1zM1356 122h1v2h-1zM958 337h1v5h-1zM1348 118h1v1h-1zM526 449h1v9h-1zM969 384h1v4h-1zM1258 224h1v2h-1zM512 286h1v14h-1zM255 486h1v2h-1zM1036 293h1v6h-1zM135 304h1v3h-1zM886 352h1v2h-1zM549 438h1v2h-1zM923 356h1v2h-1zM951 338h1v1h-1zM619 270h1v5h-1zM920 350h1v2h-1zM738 310h1v4h-1zM322 252h1v3h-1zM272 430h1v3h-1zM1119 415h1v2h-1zM352 273h1v5h-1zM786 385h1v4h-1zM1385 157h1v1h-1zM1345 121h1v1h-1zM262 465h1v4h-1zM88 350h1v1h-1zM511 266h1v20h-1zM497 139h1v6h-1zM897 339h1v2h-1zM1226 249h1v2h-1zM882 359h1v2h-1zM1178 354h1v5h-1zM1169 388h1v4h-1zM466 151h1v3h-1zM406 249h1v2h-1zM592 377h1v4h-1zM1266 205h1v2h-1zM1316 179h1v3h-1zM173 390h1v12h-1zM243 488h1v1h-1zM83 356h1v2h-1zM1108 378h1v1h-1zM528 471h1v10h-1zM1045 353h1v6h-1zM167 355h1v6h-1zM473 132h1v2h-1zM95 365h1v2h-1zM176 434h1v16h-1zM633 270h1v2h-1zM707 218h1v5h-1zM1230 260h1v4h-1zM1153 422h1v2h-1zM118 349h1v2h-1zM965 369h1v4h-1zM56 374h1v1h-1zM385 283h1v2h-1zM525 443h1v6h-1zM614 292h1v4h-1zM1324 159h1v3h-1zM1181 339h1v5h-1zM1063 383h1v2h-1zM276 418h1v3h-1zM605 329h1v4h-1zM267 448h1v4h-1zM348 255h1v4h-1zM782 369h1v4h-1zM954 333h1v2h-1zM370 282h1v1h-1zM1007 343h1v3h-1zM349 259h1v4h-1zM126 329h1v3h-1zM381 290h1v2h-1zM522 406h1v13h-1zM470 139h1v4h-1zM1173 377h1v2h-1zM540 464h1v6h-1zM170 370h1v5h-1zM163 331h1v5h-1zM1257 226h1v2h-1zM680 213h1v3h-1zM134 307h1v3h-1zM731 297h1v2h-1zM517 330h1v17h-1zM885 354h1v2h-1zM745 341h1v4h-1zM1215 230h1v1h-1zM374 288h1v2h-1zM496 133h1v6h-1zM1044 347h1v6h-1zM513 300h1v6h-1zM1115 405h1v4h-1zM713 248h1v5h-1zM1027 295h1v2h-1zM617 279h1v5h-1zM950 339h1v2h-1zM1359 130h1v3h-1zM36 412h1v3h-1zM330 222h1v4h-1zM811 410h1v1h-1zM1370 144h1v2h-1zM609 312h1v4h-1zM1038 305h1v6h-1zM292 374h1v3h-1zM1199 263h1v6h-1zM508 229h1v9h-1zM1265 207h1v3h-1zM270 437h1v4h-1zM150 291h1v2h-1zM142 288h1v1h-1zM153 296h1v2h-1zM502 176h1v10h-1zM1177 359h1v5h-1zM600 347h1v3h-1zM647 278h1v3h-1zM344 239h1v4h-1zM355 286h1v4h-1zM778 352h1v4h-1zM629 261h1v2h-1zM178 466h1v17h-1zM313 288h1v4h-1zM741 323h1v5h-1zM82 358h1v2h-1zM499 151h1v6h-1zM591 381h1v4h-1zM1198 269h1v7h-1zM1097 370h1v3h-1zM157 306h1v3h-1zM1276 194h1v1h-1zM516 322h1v8h-1zM30 430h1v3h-1zM709 228h1v5h-1zM655 260h1v2h-1zM1082 365h1v2h-1zM531 490h1v2h-1zM1277 195h1v2h-1zM1203 246h1v4h-1zM1048 370h1v3h-1zM1323 162h1v2h-1zM1051 377h1v2h-1zM957 333h1v4h-1zM325 240h1v4h-1zM275 421h1v3h-1zM505 205h1v8h-1zM125 332h1v3h-1zM636 280h1v6h-1zM265 455h1v4h-1zM519 367h1v13h-1zM317 272h1v3h-1zM175 418h1v16h-1zM563 415h1v2h-1zM1006 346h1v4h-1zM316 275h1v4h-1zM1172 379h1v2h-1zM1307 195h1v1h-1zM595 365h1v4h-1zM105 360h1v1h-1zM351 267h1v6h-1zM679 216h1v2h-1zM1222 235h1v4h-1zM27 439h1v2h-1zM1214 231h1v2h-1zM308 308h1v5h-1zM785 381h1v4h-1zM737 306h1v4h-1zM132 313h1v3h-1zM705 208h1v5h-1zM1302 201h1v1h-1zM172 382h1v8h-1zM354 282h1v4h-1zM299 344h1v4h-1zM35 415h1v3h-1zM1225 246h1v3h-1zM47 388h1v3h-1zM498 145h1v6h-1zM521 393h1v13h-1zM963 360h1v4h-1zM715 258h1v5h-1zM1264 210h1v3h-1zM1040 317h1v7h-1zM320 259h1v4h-1zM599 350h1v4h-1zM646 281h1v2h-1zM129 321h1v2h-1zM504 196h1v9h-1zM543 452h1v4h-1zM986 387h1v2h-1zM758 343h1v2h-1zM555 429h1v1h-1zM312 292h1v4h-1zM1010 335h1v3h-1zM1190 301h1v3h-1zM311 296h1v4h-1zM1176 364h1v5h-1zM524 432h1v11h-1zM590 385h1v4h-1zM59 378h1v1h-1zM743 333h1v4h-1zM534 491h1v1h-1zM654 262h1v2h-1zM372 285h1v1h-1zM1321 167h1v2h-1zM643 289h1v3h-1zM324 244h1v4h-1zM747 347h1v2h-1zM612 300h1v4h-1zM1202 250h1v4h-1zM722 289h1v2h-1zM123 338h1v2h-1zM907 335h1v2h-1zM694 191h1v1h-1zM337 218h1v2h-1zM960 346h1v5h-1zM992 379h1v1h-1zM340 224h1v3h-1zM594 369h1v4h-1zM1037 299h1v6h-1zM507 221h1v8h-1zM1068 373h1v2h-1zM281 401h1v3h-1zM527 458h1v13h-1zM1185 319h1v5h-1zM151 293h1v1h-1zM868 384h1v2h-1zM666 250h1v2h-1zM1318 174h1v3h-1zM361 287h1v3h-1zM152 294h1v2h-1zM298 348h1v5h-1zM1098 373h1v2h-1zM420 230h1v1h-1zM537 484h1v4h-1zM14 445h1v1h-1zM740 318h1v5h-1zM1046 359h1v5h-1zM319 263h1v5h-1zM662 257h1v1h-1zM607 321h1v4h-1zM708 223h1v5h-1zM42 400h1v2h-1zM1231 264h1v3h-1zM128 323h1v3h-1zM542 456h1v4h-1zM757 345h1v1h-1zM589 389h1v4h-1zM718 273h1v5h-1zM891 344h1v2h-1zM635 275h1v5h-1zM384 285h1v2h-1zM1175 369h1v5h-1zM966 373h1v3h-1zM598 354h1v4h-1zM111 355h1v1h-1zM285 390h1v2h-1zM1271 193h1v2h-1zM783 373h1v4h-1zM902 331h1v2h-1zM653 264h1v2h-1zM302 334h1v4h-1zM1029 292h1v1h-1zM1201 254h1v4h-1zM602 340h1v4h-1zM546 444h1v2h-1zM69 371h1v2h-1zM689 200h1v2h-1zM943 346h1v1h-1zM665 252h1v2h-1zM1317 177h1v2h-1zM360 290h1v1h-1zM306 319h1v5h-1zM672 231h1v3h-1zM346 247h1v4h-1zM780 360h1v5h-1zM1154 420h1v2h-1zM1000 362h1v3h-1zM1146 416h1v2h-1zM318 268h1v4h-1zM493 119h1v5h-1zM449 196h1v1h-1zM29 433h1v4h-1zM430 218h1v2h-1zM819 409h1v1h-1zM905 331h1v2h-1zM338 220h1v2h-1zM618 275h1v4h-1zM772 333h1v1h-1zM906 333h1v2h-1zM301 338h1v3h-1zM506 213h1v8h-1zM721 287h1v2h-1zM773 334h1v1h-1zM1381 153h1v1h-1zM881 361h1v1h-1zM1028 293h1v2h-1zM458 177h1v2h-1zM342 231h1v4h-1zM1382 154h1v1h-1zM1094 360h1v3h-1zM789 398h1v2h-1zM545 446h1v2h-1zM68 373h1v2h-1zM143 286h1v2h-1zM1227 251h1v3h-1zM877 367h1v2h-1zM1024 301h1v3h-1zM1109 380h1v2h-1zM1183 329h1v5h-1zM296 357h1v5h-1zM1335 133h1v3h-1zM568 408h1v1h-1zM259 475h1v3h-1zM326 236h1v4h-1zM999 365h1v2h-1zM1112 391h1v6h-1zM1083 364h1v1h-1zM1204 244h1v2h-1zM596 362h1v3h-1zM1126 411h1v1h-1zM1292 214h1v1h-1zM1055 386h1v2h-1zM1320 169h1v3h-1zM8 462h1v2h-1zM1332 142h1v2h-1zM300 341h1v3h-1zM1308 194h1v1h-1zM703 200h1v4h-1zM1071 367h1v2h-1zM949 341h1v1h-1zM1123 414h1v1h-1zM961 351h1v4h-1zM1014 326h1v2h-1zM514 306h1v8h-1zM291 377h1v2h-1zM560 421h1v2h-1zM457 179h1v2h-1zM676 223h1v2h-1zM1090 358h1v1h-1zM437 207h1v2h-1zM1023 304h1v2h-1zM1244 271h1v2h-1zM32 423h1v3h-1zM1148 420h1v1h-1zM1261 217h1v2h-1zM1145 414h1v2h-1zM138 296h1v2h-1zM621 264h1v2h-1zM1149 421h1v1h-1zM304 328h1v3h-1zM756 346h1v1h-1zM997 370h1v3h-1zM258 478h1v2h-1zM719 278h1v6h-1zM257 480h1v3h-1zM169 366h1v4h-1zM872 376h1v2h-1zM396 267h1v2h-1zM639 291h1v2h-1zM604 333h1v4h-1zM1114 401h1v4h-1zM929 358h1v1h-1zM774 335h1v1h-1zM26 441h1v1h-1zM775 336h1v5h-1zM922 354h1v2h-1zM1331 144h1v2h-1zM1383 155h1v1h-1zM89 352h1v2h-1zM1384 156h1v1h-1zM1013 328h1v2h-1zM1093 358h1v2h-1zM616 284h1v4h-1zM388 277h1v1h-1zM165 342h1v7h-1zM990 382h1v1h-1zM90 354h1v2h-1zM559 423h1v2h-1zM706 213h1v5h-1zM329 226h1v3h-1zM477 125h1v2h-1zM166 349h1v6h-1zM763 339h1v1h-1zM1110 382h1v2h-1zM675 225h1v2h-1zM269 441h1v4h-1zM1339 125h1v2h-1zM436 209h1v1h-1zM716 263h1v5h-1zM1111 384h1v7h-1zM781 365h1v4h-1zM43 398h1v2h-1zM1041 324h1v8h-1zM1235 274h1v2h-1zM1260 219h1v3h-1zM683 207h1v2h-1zM137 298h1v3h-1zM620 266h1v4h-1zM303 331h1v3h-1zM432 216h1v1h-1zM350 263h1v4h-1zM136 301h1v3h-1zM887 350h1v2h-1zM550 435h1v3h-1zM108 357h1v1h-1zM933 354h1v1h-1zM871 378h1v2h-1zM39 406h1v2h-1zM294 367h1v4h-1zM495 128h1v5h-1zM51 380h1v2h-1zM427 222h1v1h-1zM1268 199h1v3h-1zM373 286h1v2h-1zM480 121h1v1h-1zM1117 411h1v2h-1zM867 386h1v2h-1zM777 348h1v4h-1zM419 231h1v2h-1zM940 348h1v1h-1zM1106 380h1v1h-1zM661 258h1v1h-1zM1338 127h1v2h-1zM435 210h1v2h-1zM159 313h1v3h-1zM54 376h1v2h-1zM168 361h1v5h-1zM472 134h1v2h-1zM1099 375h1v3h-1zM415 238h1v2h-1zM1151 423h1v1h-1zM1009 338h1v2h-1zM1053 381h1v2h-1zM682 209h1v2h-1zM10 454h1v4h-1zM38 408h1v2h-1zM50 382h1v2h-1zM585 398h1v1h-1zM1017 319h1v3h-1zM1267 202h1v3h-1zM407 247h1v2h-1zM948 342h1v1h-1zM314 283h1v5h-1zM649 273h1v2h-1zM1246 264h1v4h-1zM866 388h1v1h-1zM573 400h1v1h-1zM403 254h1v2h-1zM1209 238h1v1h-1zM515 314h1v8h-1zM463 160h1v4h-1zM65 380h1v2h-1zM862 394h1v2h-1zM606 325h1v4h-1zM569 406h1v2h-1zM1166 397h1v2h-1zM414 240h1v2h-1zM1313 186h1v2h-1zM399 261h1v2h-1zM1352 115h1v1h-1zM1174 374h1v3h-1zM1353 116h1v2h-1zM1187 311h1v4h-1zM375 290h1v2h-1zM909 339h1v2h-1zM669 241h1v4h-1zM49 384h1v2h-1zM1389 159h1v1h-1zM1116 409h1v2h-1zM331 219h1v3h-1zM247 491h1v1h-1zM601 344h1v3h-1zM544 448h1v4h-1zM154 298h1v3h-1zM1207 240h1v1h-1zM1254 235h1v4h-1zM648 275h1v3h-1zM630 263h1v2h-1zM305 324h1v4h-1zM613 296h1v4h-1zM1165 399h1v2h-1zM968 380h1v4h-1zM1035 290h1v3h-1zM1052 379h1v2h-1zM1249 254h1v4h-1zM1186 315h1v4h-1zM469 143h1v3h-1zM1161 406h1v2h-1zM482 118h1v2h-1zM668 245h1v3h-1zM1366 138h1v1h-1zM1122 415h1v1h-1zM692 193h1v2h-1zM363 282h1v3h-1zM441 202h1v1h-1zM1157 414h1v2h-1zM1089 359h1v1h-1zM15 444h1v1h-1zM122 340h1v3h-1zM964 364h1v5h-1zM1003 355h1v2h-1zM1243 273h1v1h-1zM1067 375h1v2h-1zM12 447h1v3h-1zM287 386h1v2h-1zM492 116h1v3h-1zM755 347h1v1h-1zM889 347h1v2h-1zM295 362h1v5h-1zM744 337h1v4h-1zM1019 313h1v3h-1zM274 424h1v3h-1zM730 295h1v2h-1zM468 146h1v3h-1zM911 343h1v2h-1zM723 291h1v2h-1zM1358 127h1v3h-1zM424 224h1v1h-1zM1160 408h1v2h-1zM307 313h1v6h-1zM1372 148h1v1h-1zM691 195h1v2h-1zM476 127h1v1h-1zM989 383h1v2h-1zM558 425h1v1h-1zM628 260h1v1h-1zM674 227h1v2h-1zM1156 416h1v2h-1zM791 402h1v2h-1zM1327 153h1v2h-1zM278 411h1v3h-1zM1047 364h1v6h-1zM1232 267h1v3h-1zM1189 304h1v4h-1zM286 388h1v2h-1zM1050 375h1v2h-1zM55 375h1v1h-1zM967 376h1v4h-1zM431 217h1v1h-1zM671 234h1v4h-1zM784 377h1v4h-1zM611 304h1v4h-1zM586 396h1v2h-1zM1386 158h1v1h-1zM1256 228h1v3h-1zM1368 140h1v2h-1zM423 225h1v2h-1zM1184 324h1v5h-1zM244 489h1v1h-1zM538 477h1v7h-1zM475 128h1v2h-1zM96 367h1v1h-1zM615 288h1v4h-1zM57 375h1v1h-1zM58 376h1v2h-1zM277 414h1v4h-1zM127 326h1v3h-1zM471 136h1v3h-1zM1147 418h1v2h-1zM1008 340h1v3h-1zM1251 246h1v4h-1zM1197 276h1v5h-1zM383 287h1v2h-1zM1113 397h1v4h-1zM711 238h1v5h-1zM37 410h1v2h-1zM1334 136h1v3h-1zM584 399h1v1h-1zM610 308h1v4h-1zM638 289h1v2h-1zM339 222h1v2h-1zM293 371h1v3h-1zM1200 258h1v5h-1zM972 400h1v1h-1zM1224 243h1v3h-1zM947 343h1v1h-1zM739 314h1v4h-1zM1213 233h1v1h-1zM353 278h1v4h-1zM46 391h1v3h-1zM92 358h1v2h-1zM1301 202h1v1h-1zM1192 294h1v3h-1zM1208 239h1v1h-1zM790 400h1v2h-1zM529 481h1v5h-1zM645 283h1v3h-1zM1312 188h1v2h-1zM9 458h1v4h-1zM975 395h1v2h-1zM1388 160h1v1h-1zM164 336h1v6h-1zM280 404h1v3h-1zM991 380h1v2h-1zM103 362h1v2h-1zM1245 268h1v3h-1zM1191 297h1v4h-1zM1182 334h1v5h-1zM1295 211h1v1h-1zM622 262h1v2h-1zM231 489h1v1h-1zM160 316h1v4h-1zM552 431h1v2h-1zM873 374h1v2h-1zM397 265h1v2h-1zM934 353h1v1h-1zM1233 270h1v2h-1zM1270 195h1v2h-1zM539 470h1v7h-1zM652 266h1v3h-1zM971 392h1v6h-1zM393 272h1v2h-1zM1392 156h1v1h-1zM1319 172h1v2h-1zM901 333h1v1h-1zM1195 284h1v3h-1zM1070 369h1v2h-1zM440 203h1v1h-1zM807 405h1v1h-1zM1223 239h1v4h-1zM121 343h1v2h-1zM1002 357h1v3h-1zM279 407h1v4h-1zM608 316h1v5h-1zM91 356h1v2h-1zM1066 377h1v2h-1zM985 389h1v1h-1zM1253 239h1v4h-1zM1103 381h1v1h-1zM688 202h1v2h-1zM31 426h1v4h-1zM551 433h1v2h-1zM642 292h1v1h-1zM460 172h1v3h-1zM1354 118h1v2h-1zM1031 289h1v1h-1zM283 395h1v3h-1zM712 243h1v5h-1zM1346 120h1v1h-1zM651 269h1v2h-1zM1248 258h1v3h-1zM1194 287h1v3h-1zM771 334h1v1h-1zM1118 413h1v2h-1zM574 399h1v1h-1zM880 362h1v1h-1zM120 345h1v2h-1zM86 352h1v1h-1zM321 255h1v4h-1zM261 469h1v3h-1zM1065 379h1v2h-1zM1096 367h1v3h-1zM1326 155h1v2h-1zM571 402h1v2h-1zM1168 392h1v3h-1zM61 380h1v1h-1zM62 381h1v1h-1zM530 486h1v4h-1zM1061 387h1v2h-1zM1259 222h1v2h-1zM567 409h1v2h-1zM1279 200h1v2h-1zM970 388h1v4h-1zM332 218h1v1h-1zM1364 136h1v1h-1zM924 358h1v1h-1zM787 389h1v5h-1zM1365 137h1v1h-1zM1375 150h1v1h-1zM944 345h1v1h-1zM879 363h1v2h-1zM624 259h1v1h-1zM347 251h1v4h-1zM875 370h1v2h-1zM81 360h1v2h-1zM996 373h1v2h-1zM162 326h1v5h-1zM959 342h1v4h-1zM732 299h1v1h-1zM1016 322h1v2h-1zM264 459h1v3h-1zM1360 133h1v1h-1zM1212 234h1v1h-1zM439 204h1v2h-1zM1300 203h1v1h-1zM131 316h1v2h-1zM155 301h1v2h-1zM13 446h1v1h-1zM1012 330h1v3h-1zM387 278h1v2h-1zM1095 363h1v4h-1zM878 365h1v2h-1zM356 290h1v1h-1zM402 256h1v2h-1zM717 268h1v5h-1zM1296 210h1v1h-1zM462 164h1v4h-1zM64 383h1v1h-1zM228 491h1v1h-1zM874 372h1v2h-1zM398 263h1v2h-1zM1127 410h1v1h-1zM371 283h1v2h-1zM28 437h1v2h-1zM995 375h1v2h-1zM870 380h1v2h-1zM394 271h1v1h-1zM263 462h1v3h-1zM102 364h1v1h-1zM714 253h1v5h-1zM130 318h1v3h-1zM1011 333h1v2h-1zM418 233h1v1h-1zM535 489h1v2h-1zM453 189h1v2h-1zM939 349h1v1h-1zM1105 381h1v1h-1zM930 357h1v1h-1zM71 367h1v2h-1zM734 301h1v2h-1zM908 337h1v2h-1zM900 334h1v1h-1zM254 488h1v2h-1zM548 440h1v2h-1zM341 227h1v4h-1zM869 382h1v2h-1zM667 248h1v2h-1zM362 285h1v2h-1zM788 394h1v4h-1zM271 433h1v4h-1zM421 228h1v2h-1zM896 341h1v1h-1zM101 365h1v2h-1zM465 154h1v2h-1zM865 389h1v2h-1zM632 267h1v3h-1zM1229 257h1v3h-1zM117 351h1v2h-1zM417 234h1v2h-1zM11 450h1v4h-1zM1152 424h1v1h-1zM452 191h1v2h-1zM1062 385h1v2h-1zM1018 316h1v3h-1zM266 452h1v3h-1zM1030 290h1v2h-1zM413 242h1v2h-1zM1351 116h1v1h-1zM953 335h1v2h-1zM428 221h1v1h-1zM809 407h1v1h-1zM603 337h1v3h-1zM810 408h1v2h-1zM884 356h1v2h-1zM547 442h1v2h-1zM70 369h1v2h-1zM899 335h1v2h-1zM253 490h1v2h-1zM1369 142h1v2h-1zM1026 297h1v2h-1zM85 353h1v1h-1zM464 156h1v4h-1zM141 289h1v2h-1zM1299 204h1v2h-1zM1155 418h1v2h-1zM1001 360h1v2h-1zM1206 241h1v2h-1zM491 115h1v1h-1zM1188 308h1v3h-1zM1290 212h1v1h-1zM1081 367h1v1h-1zM670 238h1v3h-1zM1322 164h1v3h-1zM1180 344h1v5h-1zM910 341h1v2h-1zM124 335h1v3h-1zM459 175h1v2h-1zM736 304h1v2h-1zM562 417h1v2h-1zM1171 381h1v4h-1zM1306 196h1v2h-1zM1255 231h1v4h-1zM678 218h1v3h-1zM144 285h1v1h-1zM1121 416h1v1h-1zM34 418h1v2h-1zM1025 299h1v2h-1zM631 265h1v2h-1zM1228 254h1v3h-1zM1088 360h1v1h-1zM140 291h1v2h-1zM623 260h1v2h-1zM260 472h1v3h-1zM1242 274h1v1h-1zM1205 243h1v1h-1zM80 362h1v1h-1zM1250 250h1v4h-1zM565 412h1v2h-1zM701 192h1v4h-1zM1333 139h1v3h-1zM677 221h1v2h-1zM561 419h1v2h-1zM760 341h1v1h-1zM33 420h1v3h-1zM45 394h1v2h-1zM557 426h1v2h-1zM434 212h1v2h-1zM536 488h1v1h-1zM139 293h1v3h-1zM60 379h1v1h-1zM41 402h1v2h-1zM644 286h1v3h-1zM1234 272h1v2h-1zM1281 204h1v2h-1zM994 377h1v1h-1zM481 120h1v1h-1zM106 359h1v1h-1zM1344 122h1v1h-1zM1328 150h1v3h-1zM572 401h1v1h-1zM94 362h1v3h-1zM664 254h1v2h-1zM84 354h1v2h-1zM44 396h1v2h-1zM474 130h1v2h-1zM1336 131h1v2h-1zM1104 382h1v1h-1zM433 214h1v2h-1zM888 349h1v1h-1zM40 404h1v2h-1zM699 189h1v1h-1zM904 329h1v1h-1zM1269 197h1v2h-1zM309 304h1v4h-1zM700 190h1v2h-1zM1355 120h1v2h-1zM67 375h1v2h-1zM864 391h1v1h-1zM156 303h1v3h-1zM1315 182h1v2h-1zM1252 243h1v3h-1zM956 330h1v1h-1zM416 236h1v2h-1zM860 398h1v1h-1zM1100 378h1v2h-1zM998 367h1v3h-1zM1311 190h1v1h-1zM952 337h1v1h-1zM1280 202h1v2h-1zM1054 383h1v3h-1zM369 280h1v2h-1zM282 398h1v3h-1zM883 358h1v1h-1zM133 310h1v3h-1zM1193 290h1v4h-1zM1210 236h1v2h-1zM290 379h1v2h-1zM456 181h1v3h-1zM1143 411h1v1h-1zM66 377h1v3h-1zM1144 412h1v2h-1zM570 404h1v2h-1zM1167 395h1v2h-1zM1022 306h1v2h-1zM1314 184h1v2h-1zM1294 212h1v1h-1zM1310 191h1v2h-1zM1357 124h1v3h-1zM1305 198h1v1h-1zM921 352h1v2h-1zM1005 350h1v3h-1zM1069 371h1v2h-1zM1120 417h1v1h-1zM1330 146h1v2h-1zM455 184h1v2h-1zM289 381h1v2h-1zM1087 361h1v1h-1zM328 229h1v3h-1zM634 272h1v3h-1zM1263 213h1v2h-1zM1241 275h1v1h-1zM984 390h1v1h-1zM1150 422h1v1h-1zM1021 308h1v2h-1zM931 356h1v1h-1zM1220 230h1v1h-1zM1196 281h1v3h-1zM746 345h1v2h-1zM146 287h1v1h-1zM808 406h1v1h-1zM422 227h1v1h-1zM479 122h1v2h-1zM556 428h1v1h-1zM1329 148h1v2h-1zM673 229h1v2h-1zM1262 215h1v2h-1zM1337 129h1v2h-1zM935 352h1v1h-1zM53 378h1v1h-1zM429 220h1v1h-1zM681 211h1v2h-1zM1289 211h1v1h-1zM912 345h1v1h-1zM663 256h1v1h-1zM687 204h1v1h-1zM861 396h1v2h-1zM587 395h1v1h-1zM1347 119h1v1h-1zM48 386h1v2h-1zM149 290h1v1h-1zM1015 324h1v2h-1zM575 398h1v1h-1zM405 251h1v2h-1zM401 258h1v2h-1zM566 411h1v1h-1zM1164 401h1v2h-1zM1283 208h1v2h-1zM733 300h1v1h-1zM1391 157h1v1h-1zM1387 159h1v1h-1zM93 360h1v2h-1zM1298 206h1v2h-1zM1084 363h1v1h-1zM1293 213h1v1h-1zM1309 193h1v1h-1zM107 358h1v1h-1zM932 355h1v1h-1zM1124 413h1v1h-1zM1163 403h1v2h-1zM336 217h1v1h-1zM1367 139h1v1h-1zM1304 199h1v1h-1zM104 361h1v1h-1zM438 206h1v1h-1zM1159 410h1v2h-1zM988 385h1v1h-1zM983 391h1v1h-1zM1297 208h1v2h-1zM1282 206h1v2h-1zM735 303h1v1h-1zM768 336h1v1h-1zM478 124h1v1h-1zM684 206h1v1h-1zM52 379h1v1h-1zM1211 235h1v1h-1zM1291 213h1v1h-1zM412 244h1v1h-1zM564 414h1v1h-1zM974 397h1v1h-1zM145 286h1v1h-1zM1303 200h1v1h-1zM404 253h1v1h-1zM759 342h1v1h-1zM876 369h1v1h-1zM400 260h1v1h-1zM443 199h1v1h-1zM1390 158h1v1h-1zM1125 412h1v1h-1zM695 190h1v1h-1zM993 378h1v1h-1zM392 274h1v1h-1zM1092 356h1v1h-1zM936 351h1v1h-1zM451 193h1v1h-1zM1056 388h1v1h-1zM483 117h1v1h-1z"/>
<path fill="#0000ff" d="M876 316h3v1h-3zM883 316h3v1h-3zM392 235h3v1h-3zM218 440h2v1h-2zM380 234h7v1h-7zM390 234h2v1h-2zM395 234h2v1h-2zM6 371h2v1h-2zM9 371h2v1h-2zM804 371h3v1h-3zM952 305h2v1h-2zM912 312h2v1h-2zM695 169h4v1h-4zM1272 169h3v1h-3zM672 177h3v1h-3zM25 377h2v1h-2zM30 377h2v1h-2zM418 216h2v1h-2zM1068 321h3v1h-3zM1340 108h2v1h-2zM1363 108h3v1h-3zM679 175h4v1h-4zM357 220h2v1h-2zM364 220h2v1h-2zM406 220h2v1h-2zM1346 105h2v1h-2zM1357 105h2v1h-2zM1088 329h3v1h-3zM563 325h2v1h-2zM925 325h2v1h-2zM1060 325h5v1h-5zM879 315h4v1h-4zM886 315h2v1h-2zM484 80h3v1h-3zM928 327h3v1h-3zM812 365h2v1h-2zM823 365h8v1h-8zM568 322h5v1h-5zM1071 322h2v1h-2zM1240 186h2v1h-2zM975 343h2v1h-2zM1012 273h6v1h-6zM75 347h4v1h-4zM96 347h5v1h-5zM1026 266h2v1h-2zM1256 182h2v1h-2zM1292 182h5v1h-5zM760 298h3v1h-3zM23 376h2v1h-2zM1262 179h2v1h-2zM1286 179h2v1h-2zM414 218h2v1h-2zM560 324h3v1h-3zM565 324h2v1h-2zM640 230h3v1h-3zM646 230h2v1h-2zM768 301h2v1h-2zM900 301h5v1h-5zM360 222h2v1h-2zM1244 188h5v1h-5zM378 233h2v1h-2zM387 233h3v1h-3zM954 304h3v1h-3zM623 201h2v1h-2zM1372 113h2v1h-2zM1258 181h2v1h-2zM1290 181h2v1h-2zM1297 181h2v1h-2zM814 364h2v1h-2zM817 364h2v1h-2zM831 364h14v1h-14zM334 193h5v1h-5zM90 341h2v1h-2zM888 314h2v1h-2zM1352 102h2v1h-2zM421 214h2v1h-2zM15 370h2v1h-2zM807 370h2v1h-2zM85 342h2v1h-2zM973 342h2v1h-2zM675 176h4v1h-4zM890 313h2v1h-2zM914 313h2v1h-2zM692 170h3v1h-3zM699 170h2v1h-2zM1275 170h2v1h-2zM652 226h2v1h-2zM491 78h2v1h-2zM50 349h2v1h-2zM58 349h2v1h-2zM70 349h2v1h-2zM1215 154h4v1h-4zM88 340h2v1h-2zM1128 385h7v1h-7zM643 231h3v1h-3zM1242 187h2v1h-2zM1249 187h2v1h-2zM376 232h2v1h-2zM649 228h2v1h-2zM1388 122h5v1h-5zM1204 157h3v1h-3zM549 330h2v1h-2zM1086 330h2v1h-2zM1091 330h2v1h-2zM1369 111h2v1h-2zM1253 184h2v1h-2zM1385 120h2v1h-2zM231 446h4v1h-4zM81 345h2v1h-2zM224 443h2v1h-2zM208 439h3v1h-3zM215 439h3v1h-3zM362 221h2v1h-2zM366 221h2v1h-2zM404 221h2v1h-2zM1284 178h2v1h-2zM620 200h3v1h-3zM1028 265h3v1h-3zM1034 265h2v1h-2zM65 352h2v1h-2zM52 348h6v1h-6zM72 348h3v1h-3zM770 302h2v1h-2zM416 217h2v1h-2zM408 219h6v1h-6zM1376 115h2v1h-2zM1135 384h6v1h-6zM27 378h3v1h-3zM1350 103h2v1h-2zM1354 103h2v1h-2zM1342 107h2v1h-2zM1360 107h3v1h-3zM683 174h6v1h-6zM147 261h4v1h-4zM1080 331h6v1h-6zM797 366h2v1h-2zM820 366h3v1h-3zM757 296h2v1h-2zM12 369h3v1h-3zM801 369h2v1h-2zM1260 180h2v1h-2zM1288 180h2v1h-2zM228 445h3v1h-3zM235 445h2v1h-2zM654 225h2v1h-2zM487 79h4v1h-4zM931 326h2v1h-2zM1374 114h2v1h-2zM1344 106h2v1h-2zM48 350h2v1h-2zM68 350h2v1h-2zM1104 350h3v1h-3zM141 264h2v1h-2zM1031 264h3v1h-3zM1348 104h2v1h-2zM481 82h2v1h-2zM79 346h2v1h-2zM763 299h3v1h-3zM226 444h2v1h-2zM220 441h2v1h-2zM1211 155h4v1h-4zM1219 155h2v1h-2zM1125 383h2v1h-2zM144 262h3v1h-3zM151 262h2v1h-2zM19 373h2v1h-2zM61 351h2v1h-2zM1107 351h2v1h-2zM1018 272h2v1h-2zM1024 267h2v1h-2zM1207 156h4v1h-4zM203 436h2v1h-2zM1378 116h2v1h-2zM222 442h2v1h-2zM343 198h2v1h-2zM766 300h2v1h-2zM1382 118h2v1h-2zM206 438h2v1h-2zM211 438h4v1h-4zM1366 109h2v1h-2zM1380 117h2v1h-2zM312 233h1v3h-1zM1191 199h1v6h-1zM324 209h1v1h-1zM584 282h1v6h-1zM241 439h1v2h-1zM121 294h1v2h-1zM531 279h1v6h-1zM1322 133h1v2h-1zM810 367h1v2h-1zM35 370h1v2h-1zM291 293h1v6h-1zM994 304h1v2h-1zM1229 170h1v2h-1zM960 311h1v3h-1zM921 319h1v2h-1zM1230 172h1v2h-1zM1233 177h1v2h-1zM777 312h1v3h-1zM320 216h1v2h-1zM922 321h1v1h-1zM1178 246h1v3h-1zM519 192h1v8h-1zM108 332h1v3h-1zM1169 278h1v4h-1zM1318 140h1v2h-1zM180 354h1v7h-1zM309 241h1v3h-1zM1267 175h1v1h-1zM730 235h1v2h-1zM990 311h1v2h-1zM182 367h1v6h-1zM659 210h1v4h-1zM967 327h1v2h-1zM1041 276h1v3h-1zM1186 223h1v3h-1zM515 165h1v6h-1zM734 242h1v2h-1zM176 326h1v8h-1zM1161 313h1v4h-1zM246 423h1v4h-1zM494 80h1v2h-1zM196 423h1v2h-1zM868 327h1v1h-1zM262 368h1v2h-1zM8 372h1v1h-1zM193 414h1v4h-1zM528 258h1v8h-1zM439 185h1v2h-1zM275 342h1v3h-1zM1073 323h1v1h-1zM522 216h1v8h-1zM455 129h1v3h-1zM518 184h1v8h-1zM112 320h1v3h-1zM1173 263h1v4h-1zM447 159h1v5h-1zM136 269h1v1h-1zM1222 158h1v2h-1zM179 347h1v7h-1zM1165 295h1v5h-1zM259 375h1v3h-1zM635 218h1v3h-1zM545 323h1v2h-1zM1155 331h1v3h-1zM249 408h1v4h-1zM512 146h1v7h-1zM120 296h1v3h-1zM604 228h1v3h-1zM750 284h1v2h-1zM172 307h1v4h-1zM186 387h1v5h-1zM1124 382h1v1h-1zM119 299h1v3h-1zM1321 135h1v2h-1zM722 221h1v2h-1zM583 288h1v8h-1zM898 303h1v2h-1zM723 223h1v2h-1zM347 201h1v2h-1zM459 111h1v5h-1zM1195 179h1v5h-1zM319 218h1v2h-1zM1177 249h1v3h-1zM1203 158h1v1h-1zM871 322h1v2h-1zM450 147h1v4h-1zM1193 189h1v5h-1zM1152 341h1v5h-1zM521 208h1v8h-1zM989 313h1v2h-1zM527 250h1v8h-1zM658 214h1v4h-1zM162 276h1v2h-1zM1168 282h1v4h-1zM657 218h1v4h-1zM1312 149h1v2h-1zM1046 294h1v3h-1zM1160 317h1v4h-1zM1098 342h1v2h-1zM1301 176h1v2h-1zM1199 164h1v4h-1zM1095 336h1v2h-1zM316 224h1v3h-1zM627 204h1v1h-1zM438 187h1v2h-1zM1053 312h1v2h-1zM286 317h1v3h-1zM273 348h1v3h-1zM454 132h1v4h-1zM862 334h1v2h-1zM1050 305h1v2h-1zM1113 362h1v2h-1zM523 224h1v8h-1zM1281 175h1v1h-1zM111 323h1v3h-1zM958 307h1v2h-1zM1172 267h1v3h-1zM433 194h1v2h-1zM524 232h1v6h-1zM1282 176h1v1h-1zM923 322h1v2h-1zM662 200h1v3h-1zM257 380h1v3h-1zM859 338h1v2h-1zM248 412h1v5h-1zM1189 211h1v4h-1zM603 231h1v3h-1zM342 197h1v1h-1zM44 354h1v1h-1zM118 302h1v2h-1zM615 206h1v1h-1zM514 159h1v6h-1zM968 329h1v3h-1zM1042 279h1v4h-1zM505 109h1v5h-1zM1194 184h1v5h-1zM429 200h1v2h-1zM191 407h1v4h-1zM669 182h1v2h-1zM507 120h1v5h-1zM175 320h1v6h-1zM289 304h1v6h-1zM181 361h1v6h-1zM855 345h1v2h-1zM533 291h1v6h-1zM1304 169h1v3h-1zM40 361h1v1h-1zM458 116h1v6h-1zM194 418h1v3h-1zM449 151h1v4h-1zM972 340h1v2h-1zM126 284h1v2h-1zM470 93h1v2h-1zM943 314h1v1h-1zM739 253h1v3h-1zM1167 286h1v5h-1zM1142 379h1v2h-1zM938 320h1v1h-1zM1300 178h1v2h-1zM1158 323h1v3h-1zM1184 230h1v3h-1zM742 262h1v4h-1zM36 368h1v2h-1zM607 218h1v3h-1zM1197 171h1v4h-1zM517 177h1v7h-1zM543 320h1v2h-1zM717 205h1v4h-1zM554 330h1v1h-1zM244 431h1v3h-1zM272 351h1v3h-1zM983 327h1v2h-1zM501 94h1v4h-1zM94 344h1v2h-1zM168 292h1v3h-1zM718 209h1v3h-1zM187 392h1v4h-1zM547 327h1v2h-1zM178 341h1v6h-1zM171 303h1v4h-1zM786 342h1v3h-1zM996 301h1v2h-1zM109 329h1v3h-1zM1308 158h1v3h-1zM648 229h1v1h-1zM453 136h1v4h-1zM721 219h1v2h-1zM280 332h1v2h-1zM950 307h1v1h-1zM793 360h1v2h-1zM445 169h1v5h-1zM256 383h1v3h-1zM526 244h1v6h-1zM1188 215h1v4h-1zM247 417h1v6h-1zM333 194h1v2h-1zM1163 305h1v4h-1zM668 184h1v2h-1zM21 374h1v1h-1zM1331 120h1v1h-1zM428 202h1v2h-1zM581 302h1v4h-1zM713 191h1v4h-1zM276 340h1v2h-1zM516 171h1v6h-1zM1093 332h1v2h-1zM125 286h1v2h-1zM1096 338h1v2h-1zM264 365h1v1h-1zM457 122h1v4h-1zM356 219h1v1h-1zM5 370h1v1h-1zM510 133h1v5h-1zM1045 291h1v3h-1zM401 226h1v2h-1zM942 315h1v2h-1zM1175 255h1v4h-1zM114 313h1v4h-1zM598 245h1v3h-1zM656 222h1v3h-1zM448 155h1v4h-1zM539 312h1v2h-1zM606 221h1v4h-1zM1141 381h1v2h-1zM536 305h1v3h-1zM629 206h1v2h-1zM529 266h1v7h-1zM1166 291h1v4h-1zM1052 309h1v3h-1zM849 357h1v2h-1zM982 329h1v2h-1zM480 83h1v1h-1zM1112 359h1v3h-1zM1283 177h1v1h-1zM1007 278h1v2h-1zM1307 161h1v3h-1zM1118 374h1v2h-1zM1119 376h1v2h-1zM702 172h1v2h-1zM452 140h1v3h-1zM255 386h1v2h-1zM267 361h1v1h-1zM443 177h1v2h-1zM279 334h1v2h-1zM1170 274h1v4h-1zM190 404h1v3h-1zM979 336h1v2h-1zM174 316h1v4h-1zM17 371h1v1h-1zM667 186h1v2h-1zM296 278h1v3h-1zM1187 219h1v4h-1zM105 339h1v2h-1zM287 314h1v3h-1zM1174 259h1v4h-1zM597 248h1v3h-1zM92 342h1v1h-1zM1077 328h1v1h-1zM664 193h1v3h-1zM956 303h1v1h-1zM250 403h1v5h-1zM785 339h1v3h-1zM809 369h1v1h-1zM617 204h1v1h-1zM1271 170h1v1h-1zM1006 280h1v2h-1zM791 356h1v2h-1zM963 318h1v2h-1zM1037 268h1v2h-1zM1305 166h1v3h-1zM308 244h1v3h-1zM117 304h1v3h-1zM442 179h1v2h-1zM354 215h1v2h-1zM780 322h1v3h-1zM978 338h1v3h-1zM867 328h1v1h-1zM295 281h1v3h-1zM104 341h1v2h-1zM245 427h1v4h-1zM537 308h1v2h-1zM986 320h1v3h-1zM538 310h1v2h-1zM579 310h1v2h-1zM596 251h1v2h-1zM135 270h1v1h-1zM446 164h1v5h-1zM744 269h1v3h-1zM502 98h1v3h-1zM1164 300h1v5h-1zM283 326h1v2h-1zM751 286h1v2h-1zM704 175h1v1h-1zM1359 106h1v1h-1zM350 207h1v2h-1zM18 372h1v1h-1zM708 181h1v2h-1zM42 357h1v2h-1zM600 239h1v3h-1zM165 283h1v3h-1zM866 329h1v2h-1zM315 227h1v2h-1zM783 332h1v4h-1zM38 364h1v2h-1zM202 435h1v1h-1zM511 138h1v8h-1zM1079 330h1v1h-1zM985 323h1v2h-1zM139 266h1v1h-1zM185 382h1v5h-1zM578 312h1v2h-1zM87 341h1v1h-1zM530 273h1v6h-1zM1255 183h1v1h-1zM463 102h1v2h-1zM661 203h1v4h-1zM1036 266h1v2h-1zM1127 384h1v1h-1zM790 353h1v3h-1zM520 200h1v8h-1zM574 319h1v2h-1zM962 316h1v2h-1zM1337 113h1v2h-1zM153 263h1v1h-1zM474 89h1v1h-1zM154 264h1v1h-1zM582 296h1v6h-1zM969 332h1v3h-1zM1356 104h1v1h-1zM195 421h1v2h-1zM425 209h1v2h-1zM999 295h1v2h-1zM497 85h1v2h-1zM198 427h1v2h-1zM466 98h1v2h-1zM314 229h1v2h-1zM243 434h1v3h-1zM122 292h1v2h-1zM302 260h1v4h-1zM811 366h1v1h-1zM995 303h1v1h-1zM577 314h1v2h-1zM1059 323h1v2h-1zM1221 156h1v2h-1zM462 104h1v2h-1zM1122 380h1v1h-1zM188 396h1v4h-1zM905 302h1v1h-1zM1180 240h1v3h-1zM749 282h1v2h-1zM949 308h1v1h-1zM1123 381h1v1h-1zM532 285h1v6h-1zM927 326h1v1h-1zM706 178h1v1h-1zM724 225h1v2h-1zM348 203h1v2h-1zM991 309h1v2h-1zM268 360h1v1h-1zM349 205h1v2h-1zM1265 177h1v1h-1zM288 310h1v4h-1zM252 393h1v4h-1zM400 228h1v1h-1zM164 280h1v3h-1zM714 195h1v3h-1zM167 289h1v3h-1zM782 329h1v3h-1zM1097 340h1v2h-1zM177 334h1v7h-1zM586 273h1v5h-1zM424 211h1v2h-1zM625 202h1v1h-1zM1011 274h1v1h-1zM1150 352h1v4h-1zM626 203h1v1h-1zM1323 131h1v2h-1zM1115 367h1v2h-1zM1196 175h1v4h-1zM1280 174h1v1h-1zM461 106h1v2h-1zM513 153h1v6h-1zM872 321h1v1h-1zM1234 179h1v1h-1zM1179 243h1v3h-1zM506 114h1v6h-1zM1154 334h1v4h-1zM156 266h1v1h-1zM1315 144h1v2h-1zM1145 371h1v4h-1zM1003 287h1v2h-1zM495 82h1v1h-1zM580 306h1v4h-1zM496 83h1v2h-1zM1192 194h1v5h-1zM741 259h1v3h-1zM1311 151h1v2h-1zM865 331h1v1h-1zM663 196h1v4h-1zM292 289h1v4h-1zM1074 324h1v2h-1zM170 299h1v4h-1zM719 212h1v4h-1zM860 337h1v1h-1zM1223 160h1v2h-1zM1226 165h1v1h-1zM546 325h1v2h-1zM593 257h1v2h-1zM133 273h1v1h-1zM525 238h1v6h-1zM907 304h1v1h-1zM856 344h1v1h-1zM129 279h1v2h-1zM1044 287h1v4h-1zM895 307h1v2h-1zM1002 289h1v2h-1zM609 214h1v2h-1zM304 253h1v3h-1zM1047 297h1v3h-1zM274 345h1v3h-1zM998 297h1v2h-1zM936 322h1v1h-1zM551 331h1v1h-1zM1310 153h1v3h-1zM628 205h1v1h-1zM1157 326h1v2h-1zM1114 364h1v3h-1zM258 378h1v2h-1zM1232 176h1v1h-1zM1236 182h1v1h-1zM924 324h1v1h-1zM299 272h1v2h-1zM948 309h1v1h-1zM732 239h1v1h-1zM192 411h1v3h-1zM158 269h1v1h-1zM733 240h1v2h-1zM307 247h1v2h-1zM588 266h1v3h-1zM559 325h1v1h-1zM1001 291h1v2h-1zM1021 270h1v1h-1zM851 353h1v2h-1zM608 216h1v2h-1zM1198 168h1v3h-1zM1075 326h1v1h-1zM740 256h1v3h-1zM327 203h1v2h-1zM1076 327h1v1h-1zM1224 162h1v1h-1zM1325 128h1v2h-1zM997 299h1v2h-1zM169 295h1v4h-1zM1190 205h1v6h-1zM311 236h1v3h-1zM323 210h1v2h-1zM1336 115h1v1h-1zM240 441h1v1h-1zM909 306h1v2h-1zM1147 363h1v4h-1zM1039 272h1v2h-1zM993 306h1v1h-1zM298 274h1v2h-1zM854 347h1v2h-1zM1266 176h1v1h-1zM1043 283h1v4h-1zM587 269h1v4h-1zM508 125h1v4h-1zM599 242h1v3h-1zM850 355h1v2h-1zM326 205h1v2h-1zM630 208h1v1h-1zM746 274h1v3h-1zM846 361h1v2h-1zM322 212h1v2h-1zM1320 137h1v2h-1zM660 207h1v3h-1zM637 224h1v2h-1zM1238 184h1v1h-1zM1264 178h1v1h-1zM318 220h1v2h-1zM1162 309h1v4h-1zM710 185h1v2h-1zM352 211h1v2h-1zM707 179h1v2h-1zM113 317h1v3h-1zM423 213h1v1h-1zM63 352h1v1h-1zM93 343h1v1h-1zM301 264h1v4h-1zM861 336h1v1h-1zM911 310h1v2h-1zM792 358h1v2h-1zM964 320h1v2h-1zM1038 270h1v2h-1zM602 234h1v2h-1zM795 363h1v2h-1zM614 207h1v2h-1zM43 355h1v2h-1zM778 315h1v4h-1zM1314 146h1v1h-1zM317 222h1v2h-1zM971 337h1v3h-1zM535 301h1v4h-1zM39 362h1v2h-1zM140 265h1v1h-1zM251 397h1v6h-1zM1103 349h1v1h-1zM864 332h1v1h-1zM197 425h1v2h-1zM499 89h1v2h-1zM585 278h1v4h-1zM1149 356h1v4h-1zM1183 233h1v2h-1zM553 331h1v1h-1zM592 259h1v1h-1zM1120 378h1v1h-1zM745 272h1v2h-1zM132 274h1v1h-1zM1387 121h1v1h-1zM1121 379h1v1h-1zM671 178h1v2h-1zM173 311h1v5h-1zM636 221h1v3h-1zM431 197h1v2h-1zM899 302h1v1h-1zM752 288h1v2h-1zM601 236h1v3h-1zM755 293h1v2h-1zM116 307h1v3h-1zM351 209h1v2h-1zM128 281h1v1h-1zM472 91h1v1h-1zM11 370h1v1h-1zM709 183h1v2h-1zM332 196h1v1h-1zM1330 121h1v1h-1zM1144 375h1v2h-1zM427 204h1v2h-1zM467 97h1v1h-1zM715 198h1v4h-1zM124 288h1v2h-1zM1110 355h1v2h-1zM935 323h1v1h-1zM95 346h1v1h-1zM1099 344h1v2h-1zM1140 383h1v1h-1zM1182 235h1v3h-1zM34 372h1v2h-1zM1054 314h1v2h-1zM981 331h1v2h-1zM479 84h1v1h-1zM282 328h1v2h-1zM947 310h1v1h-1zM451 143h1v4h-1zM670 180h1v2h-1zM254 388h1v3h-1zM1328 123h1v1h-1zM266 362h1v2h-1zM278 336h1v2h-1zM127 282h1v2h-1zM736 246h1v2h-1zM1151 346h1v6h-1zM534 297h1v4h-1zM426 206h1v3h-1zM331 197h1v2h-1zM558 326h1v1h-1zM666 188h1v3h-1zM1020 271h1v1h-1zM403 222h1v2h-1zM1324 130h1v1h-1zM199 429h1v2h-1zM37 366h1v2h-1zM123 290h1v2h-1zM498 87h1v2h-1zM399 229h1v2h-1zM33 374h1v2h-1zM1335 116h1v1h-1zM239 442h1v1h-1zM1225 163h1v2h-1zM980 333h1v3h-1zM1270 171h1v2h-1zM992 307h1v2h-1zM753 290h1v2h-1zM290 299h1v5h-1zM281 330h1v2h-1zM725 227h1v2h-1zM1005 282h1v2h-1zM691 171h1v1h-1zM779 319h1v3h-1zM265 364h1v1h-1zM441 181h1v2h-1zM277 338h1v2h-1zM1078 329h1v1h-1zM1185 226h1v4h-1zM397 232h1v2h-1zM261 370h1v2h-1zM1056 318h1v1h-1zM845 363h1v1h-1zM1319 139h1v1h-1zM1235 180h1v2h-1zM896 306h1v1h-1zM1303 172h1v2h-1zM869 325h1v2h-1zM735 244h1v2h-1zM157 267h1v2h-1zM160 272h1v2h-1zM1176 252h1v3h-1zM440 183h1v2h-1zM1067 322h1v1h-1zM436 190h1v2h-1zM788 348h1v3h-1zM618 202h1v2h-1zM1227 166h1v2h-1zM957 305h1v2h-1zM774 306h1v2h-1zM1171 270h1v4h-1zM613 209h1v1h-1zM727 230h1v2h-1zM1153 338h1v3h-1zM1022 269h1v1h-1zM1302 174h1v2h-1zM509 129h1v4h-1zM183 373h1v5h-1zM328 202h1v1h-1zM1065 324h1v1h-1zM552 332h1v1h-1zM632 211h1v2h-1zM435 192h1v1h-1zM576 316h1v2h-1zM748 279h1v3h-1zM271 354h1v2h-1zM430 199h1v1h-1zM238 443h1v1h-1zM189 400h1v4h-1zM639 228h1v2h-1zM155 265h1v1h-1zM1237 183h1v1h-1zM471 92h1v1h-1zM159 270h1v2h-1zM1329 122h1v1h-1zM1143 377h1v2h-1zM712 189h1v2h-1zM1092 331h1v1h-1zM303 256h1v4h-1zM166 286h1v3h-1zM1309 156h1v2h-1zM1010 275h1v1h-1zM1156 328h1v3h-1zM787 345h1v3h-1zM478 85h1v1h-1zM772 303h1v1h-1zM959 309h1v2h-1zM906 303h1v1h-1zM548 329h1v1h-1zM773 304h1v2h-1zM910 308h1v2h-1zM270 356h1v2h-1zM1040 274h1v2h-1zM475 88h1v1h-1zM729 233h1v2h-1zM966 324h1v3h-1zM107 335h1v2h-1zM115 310h1v3h-1zM402 224h1v2h-1zM1101 347h1v1h-1zM816 363h1v1h-1zM1102 348h1v1h-1zM743 266h1v3h-1zM540 314h1v2h-1zM398 231h1v1h-1zM631 209h1v2h-1zM504 105h1v4h-1zM310 239h1v2h-1zM1269 173h1v1h-1zM916 314h1v1h-1zM800 368h1v1h-1zM638 226h1v2h-1zM1146 367h1v4h-1zM368 222h1v1h-1zM106 337h1v2h-1zM1202 159h1v2h-1zM870 324h1v1h-1zM353 213h1v2h-1zM988 315h1v3h-1zM1094 334h1v2h-1zM67 351h1v1h-1zM184 378h1v4h-1zM205 437h1v1h-1zM138 267h1v1h-1zM102 344h1v2h-1zM260 372h1v3h-1zM1049 303h1v2h-1zM285 320h1v3h-1zM908 305h1v1h-1zM432 196h1v1h-1zM873 320h1v1h-1zM858 340h1v2h-1zM965 322h1v2h-1zM796 365h1v1h-1zM738 251h1v2h-1zM987 318h1v2h-1zM201 433h1v2h-1zM542 318h1v2h-1zM1252 185h1v1h-1zM1066 323h1v1h-1zM284 323h1v3h-1zM1339 109h1v2h-1zM300 268h1v4h-1zM503 101h1v4h-1zM720 216h1v3h-1zM369 223h1v1h-1zM370 224h1v2h-1zM355 217h1v2h-1zM781 325h1v4h-1zM940 318h1v1h-1zM556 328h1v1h-1zM1048 300h1v3h-1zM464 101h1v1h-1zM605 225h1v3h-1zM1148 360h1v3h-1zM242 437h1v2h-1zM575 318h1v1h-1zM1117 372h1v2h-1zM460 108h1v3h-1zM794 362h1v1h-1zM1055 316h1v2h-1zM1058 321h1v2h-1zM1306 164h1v2h-1zM237 444h1v1h-1zM22 375h1v1h-1zM705 176h1v2h-1zM970 335h1v2h-1zM689 173h1v1h-1zM737 248h1v3h-1zM200 431h1v2h-1zM483 81h1v1h-1zM1278 172h1v1h-1zM1009 276h1v1h-1zM1181 238h1v2h-1zM1239 185h1v1h-1zM875 317h1v1h-1zM269 358h1v2h-1zM371 226h1v1h-1zM776 310h1v2h-1zM372 227h1v1h-1zM754 292h1v1h-1zM253 391h1v2h-1zM977 341h1v2h-1zM1313 147h1v2h-1zM1108 352h1v1h-1zM665 191h1v2h-1zM294 284h1v2h-1zM1109 353h1v2h-1zM437 189h1v1h-1zM863 333h1v1h-1zM595 253h1v2h-1zM619 201h1v1h-1zM634 216h1v2h-1zM1057 319h1v2h-1zM1116 369h1v3h-1zM345 199h1v1h-1zM591 260h1v2h-1zM346 200h1v1h-1zM131 275h1v2h-1zM874 318h1v2h-1zM1316 143h1v1h-1zM1004 284h1v3h-1zM1201 161h1v1h-1zM41 359h1v2h-1zM893 310h1v2h-1zM161 274h1v2h-1zM976 344h1v1h-1zM1299 180h1v1h-1zM137 268h1v1h-1zM500 91h1v3h-1zM293 286h1v3h-1zM1159 321h1v2h-1zM984 325h1v2h-1zM934 324h1v1h-1zM134 271h1v2h-1zM918 316h1v1h-1zM594 255h1v2h-1zM789 351h1v2h-1zM961 314h1v2h-1zM47 351h1v1h-1zM919 317h1v1h-1zM1228 168h1v2h-1zM340 195h1v1h-1zM1231 174h1v2h-1zM110 326h1v3h-1zM341 196h1v1h-1zM803 370h1v1h-1zM756 295h1v1h-1zM775 308h1v2h-1zM130 277h1v2h-1zM731 237h1v2h-1zM590 262h1v2h-1zM374 229h1v2h-1zM728 232h1v1h-1zM610 213h1v1h-1zM946 311h1v1h-1zM305 251h1v2h-1zM1200 162h1v2h-1zM1327 124h1v2h-1zM941 317h1v1h-1zM892 312h1v1h-1zM557 327h1v1h-1zM1100 346h1v1h-1zM313 231h1v2h-1zM465 100h1v1h-1zM651 227h1v1h-1zM633 213h1v3h-1zM476 87h1v1h-1zM1368 110h1v1h-1zM1334 117h1v1h-1zM799 367h1v1h-1zM589 264h1v2h-1zM944 313h1v1h-1zM444 174h1v3h-1zM163 278h1v2h-1zM852 351h1v2h-1zM690 172h1v1h-1zM468 96h1v1h-1zM1326 126h1v2h-1zM784 336h1v3h-1zM456 126h1v3h-1zM716 202h1v3h-1zM1051 307h1v2h-1zM726 229h1v1h-1zM103 343h1v1h-1zM541 316h1v2h-1zM847 360h1v1h-1zM1008 277h1v1h-1zM544 322h1v1h-1zM84 343h1v1h-1zM747 277h1v2h-1zM46 352h1v1h-1zM1317 142h1v1h-1zM612 210h1v1h-1zM711 187h1v2h-1zM897 305h1v1h-1zM703 174h1v1h-1zM359 221h1v1h-1zM611 211h1v2h-1zM330 199h1v1h-1zM306 249h1v2h-1zM1000 293h1v2h-1zM933 325h1v1h-1zM1277 171h1v1h-1zM477 86h1v1h-1zM857 342h1v2h-1zM297 276h1v2h-1zM945 312h1v1h-1zM1023 268h1v1h-1zM853 349h1v2h-1zM329 200h1v2h-1zM469 95h1v1h-1zM1111 357h1v2h-1zM937 321h1v1h-1zM325 207h1v2h-1zM1338 111h1v2h-1zM701 171h1v1h-1zM321 214h1v2h-1zM1333 118h1v1h-1zM759 297h1v1h-1zM1268 174h1v1h-1zM263 366h1v2h-1zM917 315h1v1h-1zM1279 173h1v1h-1zM339 194h1v1h-1zM1371 112h1v1h-1zM567 323h1v1h-1zM894 309h1v1h-1zM373 228h1v1h-1zM64 353h1v1h-1zM434 193h1v1h-1zM83 344h1v1h-1zM1251 186h1v1h-1zM45 353h1v1h-1zM616 205h1v1h-1zM143 263h1v1h-1zM101 346h1v1h-1zM939 319h1v1h-1zM60 350h1v1h-1zM555 329h1v1h-1zM951 306h1v1h-1zM920 318h1v1h-1zM1332 119h1v1h-1zM375 231h1v1h-1zM493 79h1v1h-1zM819 365h1v1h-1zM420 215h1v1h-1zM1384 119h1v1h-1zM32 376h1v1h-1zM573 321h1v1h-1zM473 90h1v1h-1zM848 359h1v1h-1z"/>
</g>
<g clip-path="url(#ch)">
<path fill="#008000" d="M31 595h2v3h-2zM35 580h2v18h-2zM39 567h2v31h-2zM43 562h2v36h-2zM87 597h2v1h-2zM107 593h2v5h-2zM111 578h2v20h-2zM115 562h2v36h-2zM119 550h2v48h-2zM123 543h2v55h-2zM207 580h2v18h-2zM211 567h2v31h-2zM215 562h2v36h-2zM235 577h2v21h-2zM239 575h2v23h-2zM243 554h2v44h-2zM247 526h2v72h-2zM251 515h2v83h-2zM283 574h2v24h-2zM287 568h2v30h-2zM291 568h2v30h-2zM295 565h2v33h-2zM299 561h2v37h-2zM395 593h2v5h-2zM399 582h2v16h-2zM403 573h2v25h-2zM423 588h2v10h-2zM427 579h2v19h-2zM431 577h2v21h-2zM435 576h2v22h-2zM443 569h2v29h-2zM447 559h2v39h-2zM451 554h2v44h-2zM455 549h2v49h-2zM547 592h2v6h-2zM551 579h2v19h-2zM555 560h2v38h-2zM559 556h2v42h-2zM563 555h2v43h-2zM579 554h2v44h-2zM583 541h2v57h-2zM655 595h2v3h-2zM659 574h2v24h-2zM663 563h2v35h-2zM667 557h2v41h-2zM767 589h2v9h-2zM771 581h2v17h-2zM807 585h2v13h-2zM811 569h2v29h-2zM815 563h2v35h-2zM843 589h2v9h-2zM847 582h2v16h-2zM851 568h2v30h-2zM855 557h2v41h-2zM859 555h2v43h-2zM891 597h2v1h-2zM895 589h2v9h-2zM939 586h2v12h-2zM943 576h2v22h-2zM947 565h2v33h-2zM951 563h2v35h-2zM983 595h2v3h-2zM987 571h2v27h-2zM991 558h2v40h-2zM995 556h2v42h-2zM999 554h2v44h-2zM1003 554h2v44h-2zM1071 593h2v5h-2zM1075 593h2v5h-2zM1083 587h2v11h-2zM1087 583h2v15h-2zM1135 588h2v10h-2zM1139 587h2v11h-2zM1143 570h2v28h-2zM1147 552h2v46h-2zM1151 537h2v61h-2zM1155 537h2v61h-2zM1163 536h2v62h-2zM1191 560h2v38h-2zM1255 590h2v8h-2zM1259 584h2v14h-2zM1263 579h2v19h-2zM1267 574h2v24h-2zM1271 570h2v28h-2zM1303 589h2v9h-2zM1307 571h2v27h-2zM1311 560h2v38h-2zM1315 552h2v46h-2z"/>
<path fill="#9acd32" d="M47 564h2v34h-2zM51 570h2v28h-2zM55 578h2v20h-2zM59 597h2v1h-2zM127 548h2v50h-2zM131 557h2v41h-2zM135 566h2v32h-2zM139 574h2v24h-2zM143 587h2v11h-2zM219 564h2v34h-2zM223 569h2v29h-2zM227 576h2v22h-2zM231 579h2v19h-2zM255 516h2v82h-2zM259 518h2v80h-2zM263 532h2v66h-2zM267 547h2v51h-2zM271 560h2v38h-2zM275 569h2v29h-2zM279 575h2v23h-2zM303 568h2v30h-2zM307 572h2v26h-2zM311 579h2v19h-2zM315 586h2v12h-2zM319 591h2v7h-2zM407 580h2v18h-2zM411 584h2v14h-2zM415 590h2v8h-2zM419 593h2v5h-2zM439 576h2v22h-2zM459 554h2v44h-2zM463 565h2v33h-2zM467 580h2v18h-2zM471 588h2v10h-2zM567 560h2v38h-2zM571 561h2v37h-2zM575 562h2v36h-2zM587 544h2v54h-2zM591 550h2v48h-2zM595 557h2v41h-2zM599 560h2v38h-2zM603 563h2v35h-2zM607 569h2v29h-2zM611 578h2v20h-2zM615 584h2v14h-2zM619 592h2v6h-2zM671 563h2v35h-2zM675 574h2v24h-2zM679 584h2v14h-2zM683 593h2v5h-2zM687 597h2v1h-2zM775 588h2v10h-2zM819 565h2v33h-2zM823 566h2v32h-2zM827 569h2v29h-2zM831 573h2v25h-2zM835 580h2v18h-2zM839 590h2v8h-2zM863 556h2v42h-2zM867 559h2v39h-2zM871 560h2v38h-2zM875 564h2v34h-2zM879 577h2v21h-2zM883 591h2v7h-2zM899 591h2v7h-2zM955 571h2v27h-2zM959 591h2v7h-2zM1007 561h2v37h-2zM1011 574h2v24h-2zM1015 587h2v11h-2zM1019 593h2v5h-2zM1023 597h2v1h-2zM1079 594h2v4h-2zM1091 584h2v14h-2zM1095 594h2v4h-2zM1159 539h2v59h-2zM1167 538h2v60h-2zM1171 542h2v56h-2zM1175 548h2v50h-2zM1179 557h2v41h-2zM1183 565h2v33h-2zM1187 567h2v31h-2zM1195 566h2v32h-2zM1199 575h2v23h-2zM1203 591h2v7h-2zM1275 578h2v20h-2zM1279 596h2v2h-2zM1319 560h2v38h-2zM1323 568h2v30h-2zM1327 575h2v23h-2zM1331 583h2v15h-2zM1335 586h2v12h-2zM1339 590h2v8h-2z"/>
<path fill="#ff0000" d="M63 598h2v8h-2zM67 598h2v13h-2zM71 598h2v14h-2zM75 598h2v17h-2zM91 598h2v8h-2zM95 598h2v18h-2zM147 598h2v7h-2zM151 598h2v21h-2zM155 598h2v37h-2zM159 598h2v51h-2zM163 598h2v67h-2zM167 598h2v80h-2zM171 598h2v100h-2zM175 598h2v117h-2zM179 598h2v119h-2zM323 598h2v1h-2zM327 598h2v5h-2zM331 598h2v5h-2zM335 598h2v10h-2zM339 598h2v22h-2zM343 598h2v35h-2zM347 598h2v44h-2zM351 598h2v53h-2zM355 598h2v57h-2zM475 598h2v3h-2zM479 598h2v12h-2zM483 598h2v19h-2zM487 598h2v22h-2zM491 598h2v28h-2zM495 598h2v37h-2zM499 598h2v53h-2zM503 598h2v74h-2zM507 598h2v83h-2zM511 598h2v96h-2zM515 598h2v101h-2zM519 598h2v104h-2zM523 598h2v106h-2zM623 598h2v6h-2zM627 598h2v14h-2zM631 598h2v26h-2zM635 598h2v38h-2zM639 598h2v39h-2zM691 598h2v1h-2zM695 598h2v5h-2zM699 598h2v11h-2zM703 598h2v17h-2zM707 598h2v24h-2zM711 598h2v32h-2zM715 598h2v43h-2zM719 598h2v51h-2zM739 598h2v33h-2zM743 598h2v35h-2zM779 598h2v2h-2zM783 598h2v14h-2zM787 598h2v24h-2zM791 598h2v30h-2zM887 598h2v1h-2zM903 598h2v2h-2zM907 598h2v16h-2zM911 598h2v23h-2zM915 598h2v24h-2zM919 598h2v30h-2zM923 598h2v37h-2zM963 598h2v15h-2zM967 598h2v39h-2zM971 598h2v47h-2zM1027 598h2v1h-2zM1031 598h2v6h-2zM1035 598h2v16h-2zM1039 598h2v31h-2zM1043 598h2v47h-2zM1047 598h2v54h-2zM1099 598h2v7h-2zM1103 598h2v11h-2zM1111 598h2v19h-2zM1115 598h2v25h-2zM1207 598h2v9h-2zM1211 598h2v20h-2zM1215 598h2v26h-2zM1219 598h2v35h-2zM1223 598h2v44h-2zM1227 598h2v47h-2zM1231 598h2v47h-2zM1283 598h2v13h-2zM1287 598h2v20h-2zM1343 598h2v2h-2zM1347 598h2v5h-2zM1351 598h2v8h-2zM1355 598h2v20h-2zM1359 598h2v27h-2zM1363 598h2v29h-2zM1367 598h2v32h-2zM1371 598h2v33h-2zM1383 598h2v26h-2z"/>
<path fill="#ffa500" d="M7 598h2v34h-2zM11 598h2v23h-2zM15 598h2v17h-2zM19 598h2v15h-2zM23 598h2v11h-2zM27 598h2v7h-2zM79 598h2v11h-2zM83 598h2v2h-2zM99 598h2v16h-2zM103 598h2v10h-2zM183 598h2v113h-2zM187 598h2v104h-2zM191 598h2v80h-2zM195 598h2v56h-2zM199 598h2v29h-2zM203 598h2v4h-2zM359 598h2v47h-2zM363 598h2v37h-2zM367 598h2v30h-2zM371 598h2v26h-2zM375 598h2v23h-2zM379 598h2v19h-2zM383 598h2v7h-2zM387 598h2v2h-2zM391 598h2v2h-2zM527 598h2v94h-2zM531 598h2v74h-2zM535 598h2v50h-2zM539 598h2v26h-2zM543 598h2v7h-2zM643 598h2v32h-2zM647 598h2v22h-2zM651 598h2v12h-2zM723 598h2v48h-2zM727 598h2v40h-2zM731 598h2v35h-2zM735 598h2v31h-2zM747 598h2v32h-2zM751 598h2v27h-2zM755 598h2v25h-2zM759 598h2v10h-2zM763 598h2v1h-2zM795 598h2v22h-2zM799 598h2v13h-2zM803 598h2v4h-2zM927 598h2v31h-2zM931 598h2v18h-2zM935 598h2v2h-2zM975 598h2v41h-2zM979 598h2v18h-2zM1051 598h2v53h-2zM1055 598h2v52h-2zM1059 598h2v42h-2zM1063 598h2v22h-2zM1067 598h2v4h-2zM1107 598h2v10h-2zM1119 598h2v24h-2zM1123 598h2v18h-2zM1127 598h2v10h-2zM1131 598h2v1h-2zM1235 598h2v45h-2zM1239 598h2v38h-2zM1243 598h2v30h-2zM1247 598h2v18h-2zM1251 598h2v4h-2zM1291 598h2v20h-2zM1295 598h2v15h-2zM1299 598h2v4h-2zM1375 598h2v30h-2zM1379 598h2v26h-2zM1387 598h2v23h-2zM1391 598h2v17h-2z"/>
</g>
<g shape-rendering="auto" fill="none"><rect x="11" y="13.1" width="5" height="1.8" fill="#fde6d4"/><rect x="11" y="16.1" width="5" height="1.8" fill="#fde6d4"/><rect x="17" y="13.1" width="5" height="1.8" fill="#c9eeff"/><rect x="17" y="16.1" width="5" height="1.8" fill="#c9eeff"/><path d="M16.5 10.5H10.5a1 1 0 0 0-1 1v8a1 1 0 0 0 1 1h6" stroke="#e03030" stroke-width="1.15"/><path d="M16.5 10.5H22.5a1 1 0 0 1 1 1v8a1 1 0 0 1-1 1h-6" stroke="#1060b8" stroke-width="1.15"/><path d="M11.5 12.5h4M11.5 15.5h4M11.5 18.5h4" stroke="#e02020" stroke-width="1" stroke-linecap="round"/><path d="M17.5 12.5h4M17.5 15.5h4M17.5 18.5h4" stroke="#0060b8" stroke-width="1" stroke-linecap="round"/></g>
<rect x="5" y="5" width="1436" height="1" fill="#fcfcfc"/><rect x="5" y="753" width="1436" height="1" fill="#fbfbfb"/><rect x="5" y="5" width="1" height="749" fill="#fcfcfc"/><rect x="1440" y="5" width="1" height="749" fill="#fcfcfc"/>
<rect x="0" y="0" width="1444" height="1" fill="#a0a0a0"/><rect x="0" y="0" width="1" height="761" fill="#a0a0a0"/>
<rect x="1" y="1" width="1442" height="1" fill="#696969"/><rect x="1" y="1" width="1" height="759" fill="#696969"/>
<rect x="1442" y="1" width="1" height="759" fill="#e3e3e3"/><rect x="1" y="759" width="1442" height="1" fill="#e3e3e3"/>
<rect x="1443" y="0" width="1" height="761" fill="#fff"/><rect x="0" y="760" width="1444" height="1" fill="#fff"/>
</svg></body></html>
